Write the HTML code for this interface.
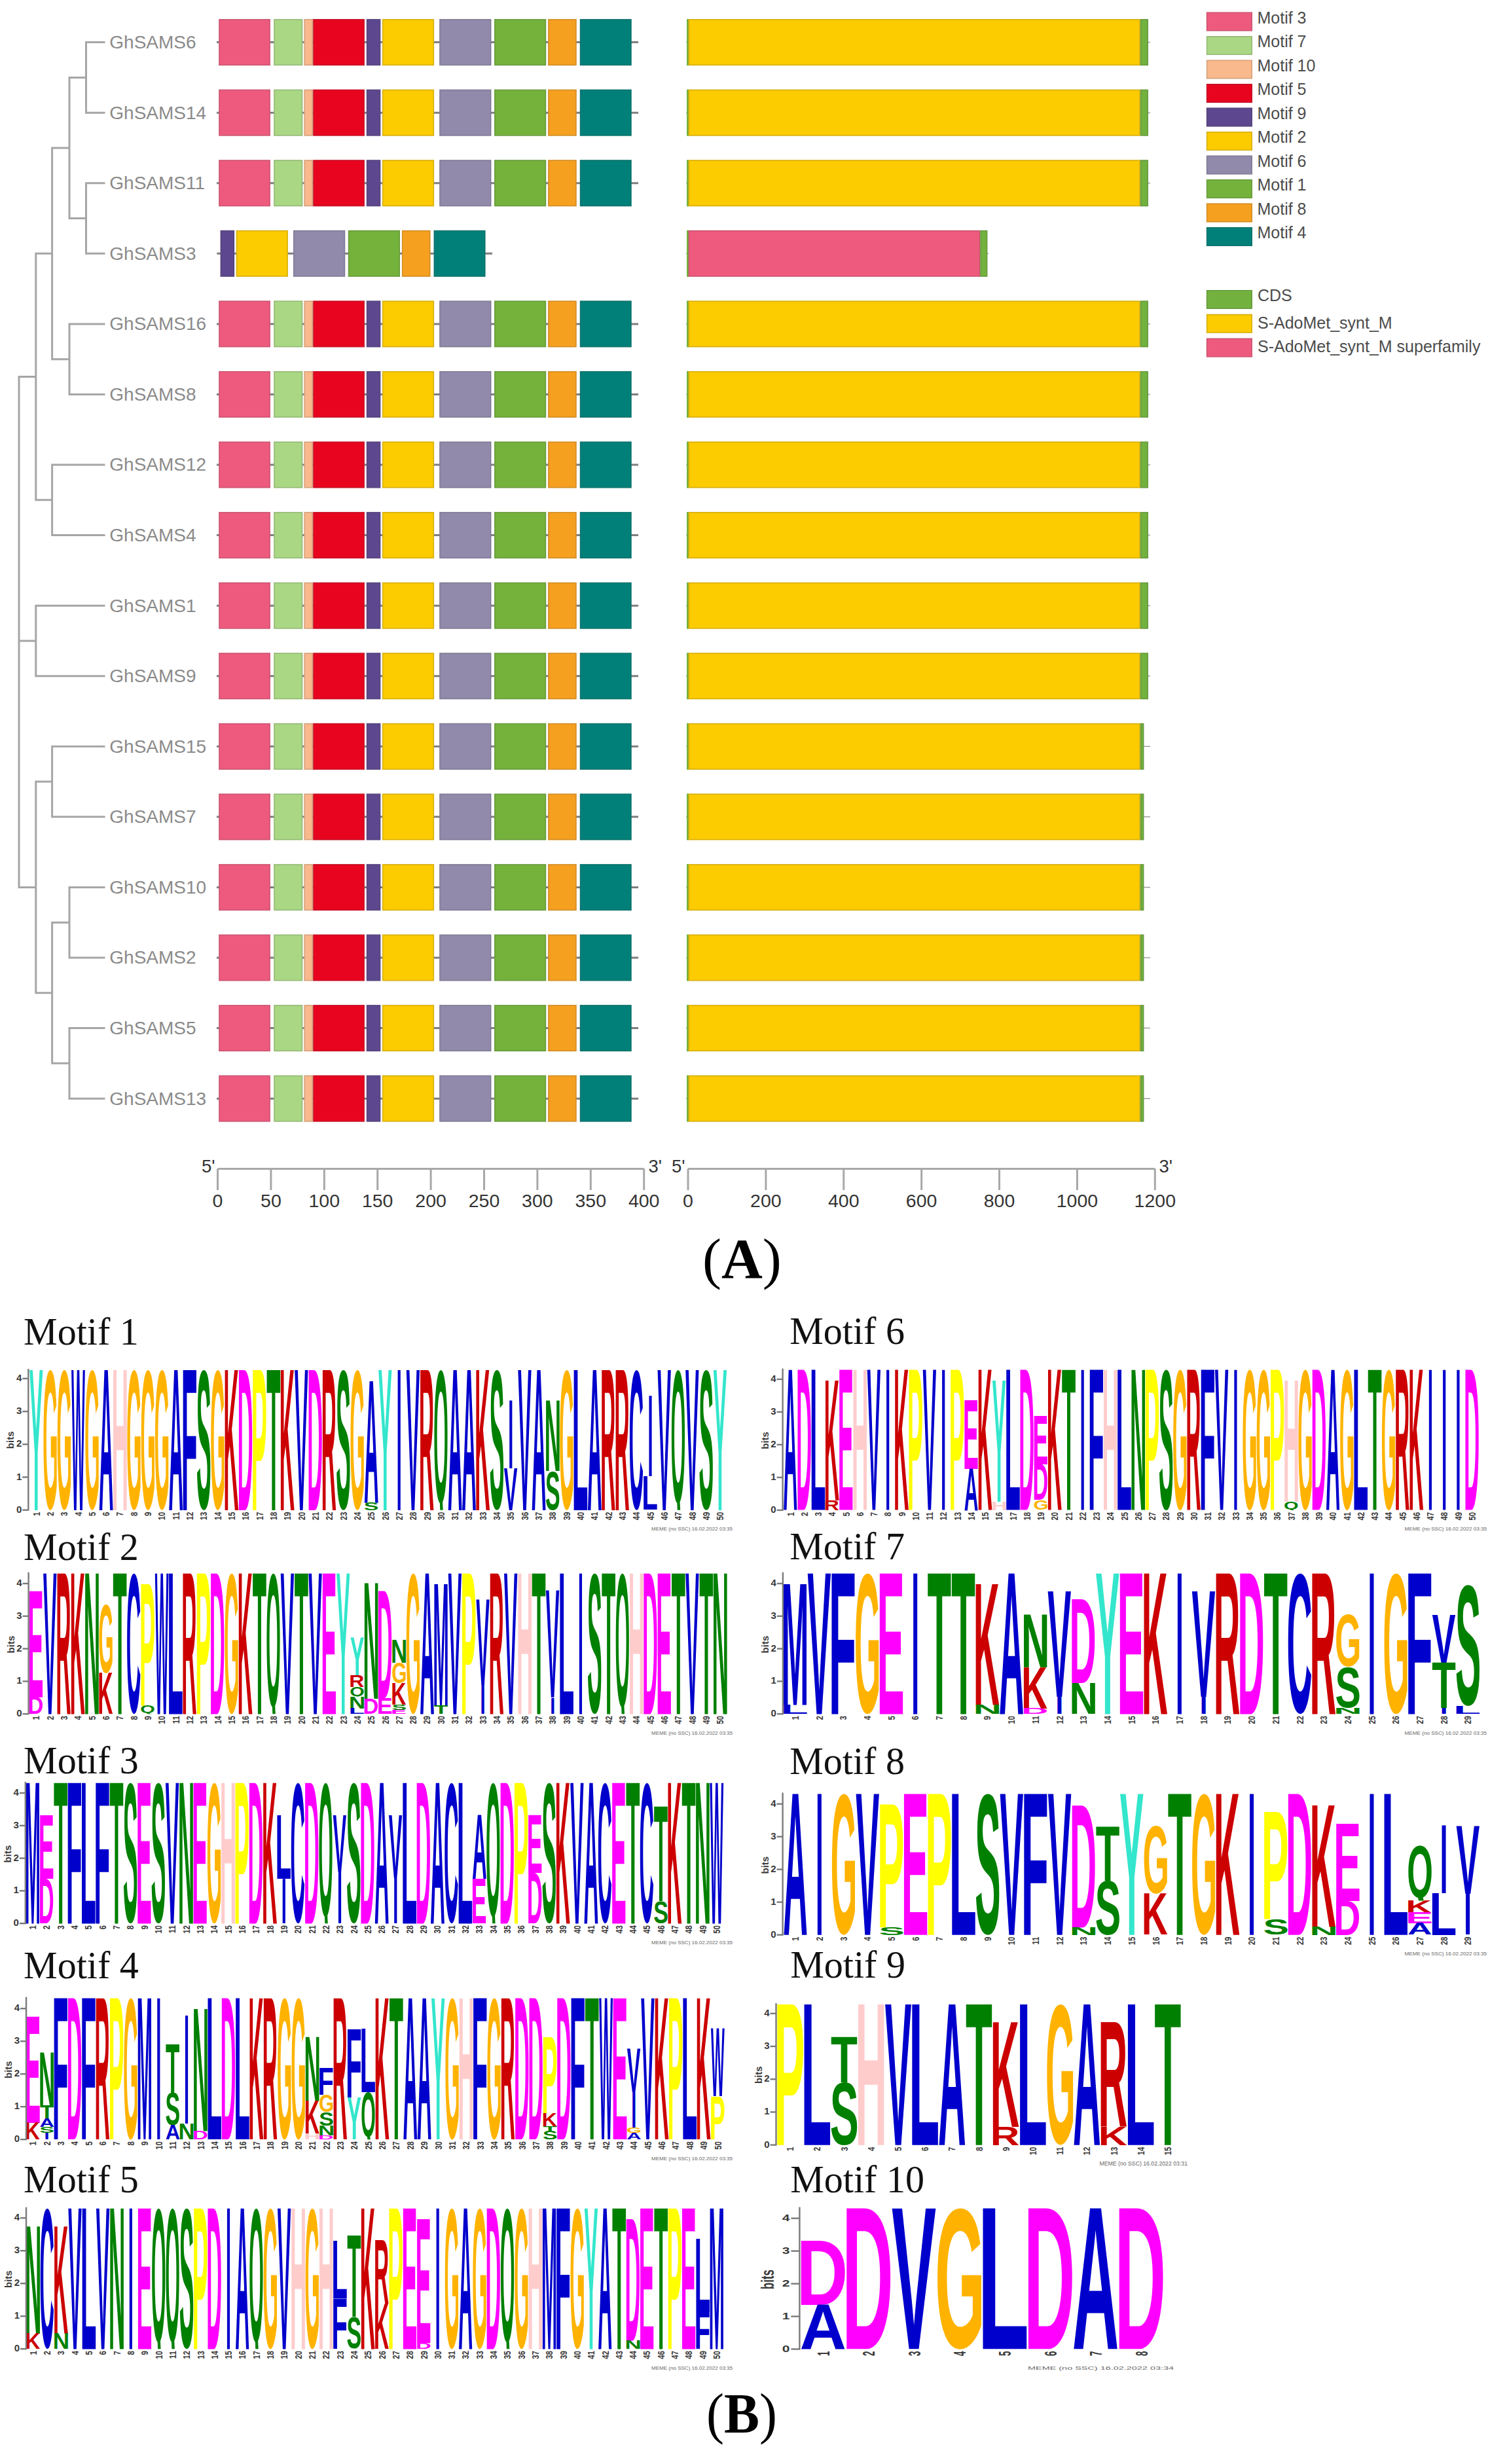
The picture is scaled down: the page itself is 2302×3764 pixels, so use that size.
<!DOCTYPE html>
<html><head><meta charset="utf-8"><title>GhSAMS motifs</title>
<style>html,body{margin:0;padding:0;background:#fff;}svg{display:block;}</style></head>
<body><svg xmlns="http://www.w3.org/2000/svg" width="2302" height="3764" viewBox="0 0 2302 3764">
<rect width="2302" height="3764" fill="#fff"/>
<path d="M131.5 64.6H159M131.5 172.17H159M131.5 279.74H159M131.5 387.31H159M106 494.88H159M106 602.45H159M79.6 710.02H159M79.6 817.59H159M54.8 925.16H159M54.8 1032.73H159M79.6 1140.3H159M79.6 1247.87H159M106 1355.44H159M106 1463.01H159M106 1570.58H159M106 1678.15H159M131.5 64.6V172.17M106 118.38H131.5M131.5 279.74V387.31M106 333.52H131.5M106 118.38V333.52M79.6 225.95H106M106 494.88V602.45M79.6 548.66H106M79.6 225.95V548.66M54.8 387.31H79.6M79.6 710.02V817.59M54.8 763.81H79.6M54.8 387.31V763.81M29 575.56H54.8M54.8 925.16V1032.73M29 978.94H54.8M79.6 1140.3V1247.87M54.8 1194.08H79.6M106 1355.44V1463.01M79.6 1409.22H106M106 1570.58V1678.15M79.6 1624.36H106M79.6 1409.22V1624.36M54.8 1516.79H79.6M54.8 1194.08V1516.79M29 1355.44H54.8M29 575.56V1355.44" stroke="#a6a6a6" stroke-width="3" fill="none" stroke-linecap="square"/>
<g font-family="Liberation Sans" font-size="27.6" fill="#8a8a8a">
<text x="167.3" y="74" transform="translate(167.3 0) scale(1.015 1) translate(-167.3 0)">GhSAMS6</text>
<text x="167.3" y="181.57" transform="translate(167.3 0) scale(1.015 1) translate(-167.3 0)">GhSAMS14</text>
<text x="167.3" y="289.14" transform="translate(167.3 0) scale(1.015 1) translate(-167.3 0)">GhSAMS11</text>
<text x="167.3" y="396.71" transform="translate(167.3 0) scale(1.015 1) translate(-167.3 0)">GhSAMS3</text>
<text x="167.3" y="504.28" transform="translate(167.3 0) scale(1.015 1) translate(-167.3 0)">GhSAMS16</text>
<text x="167.3" y="611.85" transform="translate(167.3 0) scale(1.015 1) translate(-167.3 0)">GhSAMS8</text>
<text x="167.3" y="719.42" transform="translate(167.3 0) scale(1.015 1) translate(-167.3 0)">GhSAMS12</text>
<text x="167.3" y="826.99" transform="translate(167.3 0) scale(1.015 1) translate(-167.3 0)">GhSAMS4</text>
<text x="167.3" y="934.56" transform="translate(167.3 0) scale(1.015 1) translate(-167.3 0)">GhSAMS1</text>
<text x="167.3" y="1042.13" transform="translate(167.3 0) scale(1.015 1) translate(-167.3 0)">GhSAMS9</text>
<text x="167.3" y="1149.7" transform="translate(167.3 0) scale(1.015 1) translate(-167.3 0)">GhSAMS15</text>
<text x="167.3" y="1257.27" transform="translate(167.3 0) scale(1.015 1) translate(-167.3 0)">GhSAMS7</text>
<text x="167.3" y="1364.84" transform="translate(167.3 0) scale(1.015 1) translate(-167.3 0)">GhSAMS10</text>
<text x="167.3" y="1472.41" transform="translate(167.3 0) scale(1.015 1) translate(-167.3 0)">GhSAMS2</text>
<text x="167.3" y="1579.98" transform="translate(167.3 0) scale(1.015 1) translate(-167.3 0)">GhSAMS5</text>
<text x="167.3" y="1687.55" transform="translate(167.3 0) scale(1.015 1) translate(-167.3 0)">GhSAMS13</text>
</g>
<path d="M331 64.6H975" stroke="#7e7e7e" stroke-width="3"/>
<rect x="334.2" y="29.1" width="78.7" height="71" fill="#EE5A7E"/>
<rect x="335" y="29.9" width="77.1" height="69.4" fill="none" stroke="rgba(70,70,70,0.2)" stroke-width="1.6"/>
<rect x="418.2" y="29.1" width="44.1" height="71" fill="#AAD784"/>
<rect x="419" y="29.9" width="42.5" height="69.4" fill="none" stroke="rgba(70,70,70,0.2)" stroke-width="1.6"/>
<rect x="464.4" y="29.1" width="13.6" height="71" fill="#F9B98C"/>
<rect x="465.2" y="29.9" width="12" height="69.4" fill="none" stroke="rgba(70,70,70,0.2)" stroke-width="1.6"/>
<rect x="478.2" y="29.1" width="78.7" height="71" fill="#E8041F"/>
<rect x="479" y="29.9" width="77.1" height="69.4" fill="none" stroke="rgba(70,70,70,0.2)" stroke-width="1.6"/>
<rect x="559.8" y="29.1" width="21.5" height="71" fill="#5D478E"/>
<rect x="560.6" y="29.9" width="19.9" height="69.4" fill="none" stroke="rgba(70,70,70,0.2)" stroke-width="1.6"/>
<rect x="583.9" y="29.1" width="79.2" height="71" fill="#FCCB00"/>
<rect x="584.7" y="29.9" width="77.6" height="69.4" fill="none" stroke="rgba(70,70,70,0.2)" stroke-width="1.6"/>
<rect x="671.2" y="29.1" width="79.2" height="71" fill="#918AAB"/>
<rect x="672" y="29.9" width="77.6" height="69.4" fill="none" stroke="rgba(70,70,70,0.2)" stroke-width="1.6"/>
<rect x="755" y="29.1" width="79.2" height="71" fill="#74B23C"/>
<rect x="755.8" y="29.9" width="77.6" height="69.4" fill="none" stroke="rgba(70,70,70,0.2)" stroke-width="1.6"/>
<rect x="837.1" y="29.1" width="43.6" height="71" fill="#F6A01F"/>
<rect x="837.9" y="29.9" width="42" height="69.4" fill="none" stroke="rgba(70,70,70,0.2)" stroke-width="1.6"/>
<rect x="885.8" y="29.1" width="78.9" height="71" fill="#008078"/>
<rect x="886.6" y="29.9" width="77.3" height="69.4" fill="none" stroke="rgba(70,70,70,0.2)" stroke-width="1.6"/>
<path d="M1048 64.6H1757" stroke="#a0a0a0" stroke-width="1.5"/>
<rect x="1049" y="29.1" width="3" height="71" fill="#72B13E"/>
<rect x="1051.5" y="29.1" width="690.3" height="71" fill="#FCCB00"/>
<rect x="1052.3" y="29.9" width="688.7" height="69.4" fill="none" stroke="rgba(70,70,70,0.2)" stroke-width="1.6"/>
<rect x="1741.8" y="29.1" width="12.2" height="71" fill="#72B13E"/>
<rect x="1742.6" y="29.9" width="10.6" height="69.4" fill="none" stroke="rgba(70,70,70,0.2)" stroke-width="1.6"/>
<path d="M331 172.17H975" stroke="#7e7e7e" stroke-width="3"/>
<rect x="334.2" y="136.67" width="78.7" height="71" fill="#EE5A7E"/>
<rect x="335" y="137.47" width="77.1" height="69.4" fill="none" stroke="rgba(70,70,70,0.2)" stroke-width="1.6"/>
<rect x="418.2" y="136.67" width="44.1" height="71" fill="#AAD784"/>
<rect x="419" y="137.47" width="42.5" height="69.4" fill="none" stroke="rgba(70,70,70,0.2)" stroke-width="1.6"/>
<rect x="464.4" y="136.67" width="13.6" height="71" fill="#F9B98C"/>
<rect x="465.2" y="137.47" width="12" height="69.4" fill="none" stroke="rgba(70,70,70,0.2)" stroke-width="1.6"/>
<rect x="478.2" y="136.67" width="78.7" height="71" fill="#E8041F"/>
<rect x="479" y="137.47" width="77.1" height="69.4" fill="none" stroke="rgba(70,70,70,0.2)" stroke-width="1.6"/>
<rect x="559.8" y="136.67" width="21.5" height="71" fill="#5D478E"/>
<rect x="560.6" y="137.47" width="19.9" height="69.4" fill="none" stroke="rgba(70,70,70,0.2)" stroke-width="1.6"/>
<rect x="583.9" y="136.67" width="79.2" height="71" fill="#FCCB00"/>
<rect x="584.7" y="137.47" width="77.6" height="69.4" fill="none" stroke="rgba(70,70,70,0.2)" stroke-width="1.6"/>
<rect x="671.2" y="136.67" width="79.2" height="71" fill="#918AAB"/>
<rect x="672" y="137.47" width="77.6" height="69.4" fill="none" stroke="rgba(70,70,70,0.2)" stroke-width="1.6"/>
<rect x="755" y="136.67" width="79.2" height="71" fill="#74B23C"/>
<rect x="755.8" y="137.47" width="77.6" height="69.4" fill="none" stroke="rgba(70,70,70,0.2)" stroke-width="1.6"/>
<rect x="837.1" y="136.67" width="43.6" height="71" fill="#F6A01F"/>
<rect x="837.9" y="137.47" width="42" height="69.4" fill="none" stroke="rgba(70,70,70,0.2)" stroke-width="1.6"/>
<rect x="885.8" y="136.67" width="78.9" height="71" fill="#008078"/>
<rect x="886.6" y="137.47" width="77.3" height="69.4" fill="none" stroke="rgba(70,70,70,0.2)" stroke-width="1.6"/>
<path d="M1048 172.17H1757" stroke="#a0a0a0" stroke-width="1.5"/>
<rect x="1049" y="136.67" width="3" height="71" fill="#72B13E"/>
<rect x="1051.5" y="136.67" width="690.3" height="71" fill="#FCCB00"/>
<rect x="1052.3" y="137.47" width="688.7" height="69.4" fill="none" stroke="rgba(70,70,70,0.2)" stroke-width="1.6"/>
<rect x="1741.8" y="136.67" width="12.2" height="71" fill="#72B13E"/>
<rect x="1742.6" y="137.47" width="10.6" height="69.4" fill="none" stroke="rgba(70,70,70,0.2)" stroke-width="1.6"/>
<path d="M331 279.74H975" stroke="#7e7e7e" stroke-width="3"/>
<rect x="334.2" y="244.24" width="78.7" height="71" fill="#EE5A7E"/>
<rect x="335" y="245.04" width="77.1" height="69.4" fill="none" stroke="rgba(70,70,70,0.2)" stroke-width="1.6"/>
<rect x="418.2" y="244.24" width="44.1" height="71" fill="#AAD784"/>
<rect x="419" y="245.04" width="42.5" height="69.4" fill="none" stroke="rgba(70,70,70,0.2)" stroke-width="1.6"/>
<rect x="464.4" y="244.24" width="13.6" height="71" fill="#F9B98C"/>
<rect x="465.2" y="245.04" width="12" height="69.4" fill="none" stroke="rgba(70,70,70,0.2)" stroke-width="1.6"/>
<rect x="478.2" y="244.24" width="78.7" height="71" fill="#E8041F"/>
<rect x="479" y="245.04" width="77.1" height="69.4" fill="none" stroke="rgba(70,70,70,0.2)" stroke-width="1.6"/>
<rect x="559.8" y="244.24" width="21.5" height="71" fill="#5D478E"/>
<rect x="560.6" y="245.04" width="19.9" height="69.4" fill="none" stroke="rgba(70,70,70,0.2)" stroke-width="1.6"/>
<rect x="583.9" y="244.24" width="79.2" height="71" fill="#FCCB00"/>
<rect x="584.7" y="245.04" width="77.6" height="69.4" fill="none" stroke="rgba(70,70,70,0.2)" stroke-width="1.6"/>
<rect x="671.2" y="244.24" width="79.2" height="71" fill="#918AAB"/>
<rect x="672" y="245.04" width="77.6" height="69.4" fill="none" stroke="rgba(70,70,70,0.2)" stroke-width="1.6"/>
<rect x="755" y="244.24" width="79.2" height="71" fill="#74B23C"/>
<rect x="755.8" y="245.04" width="77.6" height="69.4" fill="none" stroke="rgba(70,70,70,0.2)" stroke-width="1.6"/>
<rect x="837.1" y="244.24" width="43.6" height="71" fill="#F6A01F"/>
<rect x="837.9" y="245.04" width="42" height="69.4" fill="none" stroke="rgba(70,70,70,0.2)" stroke-width="1.6"/>
<rect x="885.8" y="244.24" width="78.9" height="71" fill="#008078"/>
<rect x="886.6" y="245.04" width="77.3" height="69.4" fill="none" stroke="rgba(70,70,70,0.2)" stroke-width="1.6"/>
<path d="M1048 279.74H1757" stroke="#a0a0a0" stroke-width="1.5"/>
<rect x="1049" y="244.24" width="3" height="71" fill="#72B13E"/>
<rect x="1051.5" y="244.24" width="690.3" height="71" fill="#FCCB00"/>
<rect x="1052.3" y="245.04" width="688.7" height="69.4" fill="none" stroke="rgba(70,70,70,0.2)" stroke-width="1.6"/>
<rect x="1741.8" y="244.24" width="12.2" height="71" fill="#72B13E"/>
<rect x="1742.6" y="245.04" width="10.6" height="69.4" fill="none" stroke="rgba(70,70,70,0.2)" stroke-width="1.6"/>
<path d="M331.3 387.31H752" stroke="#7e7e7e" stroke-width="3"/>
<rect x="336.6" y="351.81" width="21.5" height="71" fill="#5D478E"/>
<rect x="337.4" y="352.61" width="19.9" height="69.4" fill="none" stroke="rgba(70,70,70,0.2)" stroke-width="1.6"/>
<rect x="360.7" y="351.81" width="79.2" height="71" fill="#FCCB00"/>
<rect x="361.5" y="352.61" width="77.6" height="69.4" fill="none" stroke="rgba(70,70,70,0.2)" stroke-width="1.6"/>
<rect x="448" y="351.81" width="79.2" height="71" fill="#918AAB"/>
<rect x="448.8" y="352.61" width="77.6" height="69.4" fill="none" stroke="rgba(70,70,70,0.2)" stroke-width="1.6"/>
<rect x="531.8" y="351.81" width="79.2" height="71" fill="#74B23C"/>
<rect x="532.6" y="352.61" width="77.6" height="69.4" fill="none" stroke="rgba(70,70,70,0.2)" stroke-width="1.6"/>
<rect x="613.9" y="351.81" width="43.6" height="71" fill="#F6A01F"/>
<rect x="614.7" y="352.61" width="42" height="69.4" fill="none" stroke="rgba(70,70,70,0.2)" stroke-width="1.6"/>
<rect x="662.6" y="351.81" width="78.9" height="71" fill="#008078"/>
<rect x="663.4" y="352.61" width="77.3" height="69.4" fill="none" stroke="rgba(70,70,70,0.2)" stroke-width="1.6"/>
<path d="M1048 387.31H1510" stroke="#a0a0a0" stroke-width="1.5"/>
<rect x="1049" y="351.81" width="3" height="71" fill="#72B13E"/>
<rect x="1051.6" y="351.81" width="445.6" height="71" fill="#EE5A7E"/>
<rect x="1052.4" y="352.61" width="444" height="69.4" fill="none" stroke="rgba(70,70,70,0.2)" stroke-width="1.6"/>
<rect x="1497.2" y="351.81" width="11.2" height="71" fill="#72B13E"/>
<rect x="1498" y="352.61" width="9.6" height="69.4" fill="none" stroke="rgba(70,70,70,0.2)" stroke-width="1.6"/>
<path d="M331 494.88H975" stroke="#7e7e7e" stroke-width="3"/>
<rect x="334.2" y="459.38" width="78.7" height="71" fill="#EE5A7E"/>
<rect x="335" y="460.18" width="77.1" height="69.4" fill="none" stroke="rgba(70,70,70,0.2)" stroke-width="1.6"/>
<rect x="418.2" y="459.38" width="44.1" height="71" fill="#AAD784"/>
<rect x="419" y="460.18" width="42.5" height="69.4" fill="none" stroke="rgba(70,70,70,0.2)" stroke-width="1.6"/>
<rect x="464.4" y="459.38" width="13.6" height="71" fill="#F9B98C"/>
<rect x="465.2" y="460.18" width="12" height="69.4" fill="none" stroke="rgba(70,70,70,0.2)" stroke-width="1.6"/>
<rect x="478.2" y="459.38" width="78.7" height="71" fill="#E8041F"/>
<rect x="479" y="460.18" width="77.1" height="69.4" fill="none" stroke="rgba(70,70,70,0.2)" stroke-width="1.6"/>
<rect x="559.8" y="459.38" width="21.5" height="71" fill="#5D478E"/>
<rect x="560.6" y="460.18" width="19.9" height="69.4" fill="none" stroke="rgba(70,70,70,0.2)" stroke-width="1.6"/>
<rect x="583.9" y="459.38" width="79.2" height="71" fill="#FCCB00"/>
<rect x="584.7" y="460.18" width="77.6" height="69.4" fill="none" stroke="rgba(70,70,70,0.2)" stroke-width="1.6"/>
<rect x="671.2" y="459.38" width="79.2" height="71" fill="#918AAB"/>
<rect x="672" y="460.18" width="77.6" height="69.4" fill="none" stroke="rgba(70,70,70,0.2)" stroke-width="1.6"/>
<rect x="755" y="459.38" width="79.2" height="71" fill="#74B23C"/>
<rect x="755.8" y="460.18" width="77.6" height="69.4" fill="none" stroke="rgba(70,70,70,0.2)" stroke-width="1.6"/>
<rect x="837.1" y="459.38" width="43.6" height="71" fill="#F6A01F"/>
<rect x="837.9" y="460.18" width="42" height="69.4" fill="none" stroke="rgba(70,70,70,0.2)" stroke-width="1.6"/>
<rect x="885.8" y="459.38" width="78.9" height="71" fill="#008078"/>
<rect x="886.6" y="460.18" width="77.3" height="69.4" fill="none" stroke="rgba(70,70,70,0.2)" stroke-width="1.6"/>
<path d="M1048 494.88H1757" stroke="#a0a0a0" stroke-width="1.5"/>
<rect x="1049" y="459.38" width="3" height="71" fill="#72B13E"/>
<rect x="1051.5" y="459.38" width="690.3" height="71" fill="#FCCB00"/>
<rect x="1052.3" y="460.18" width="688.7" height="69.4" fill="none" stroke="rgba(70,70,70,0.2)" stroke-width="1.6"/>
<rect x="1741.8" y="459.38" width="12.2" height="71" fill="#72B13E"/>
<rect x="1742.6" y="460.18" width="10.6" height="69.4" fill="none" stroke="rgba(70,70,70,0.2)" stroke-width="1.6"/>
<path d="M331 602.45H975" stroke="#7e7e7e" stroke-width="3"/>
<rect x="334.2" y="566.95" width="78.7" height="71" fill="#EE5A7E"/>
<rect x="335" y="567.75" width="77.1" height="69.4" fill="none" stroke="rgba(70,70,70,0.2)" stroke-width="1.6"/>
<rect x="418.2" y="566.95" width="44.1" height="71" fill="#AAD784"/>
<rect x="419" y="567.75" width="42.5" height="69.4" fill="none" stroke="rgba(70,70,70,0.2)" stroke-width="1.6"/>
<rect x="464.4" y="566.95" width="13.6" height="71" fill="#F9B98C"/>
<rect x="465.2" y="567.75" width="12" height="69.4" fill="none" stroke="rgba(70,70,70,0.2)" stroke-width="1.6"/>
<rect x="478.2" y="566.95" width="78.7" height="71" fill="#E8041F"/>
<rect x="479" y="567.75" width="77.1" height="69.4" fill="none" stroke="rgba(70,70,70,0.2)" stroke-width="1.6"/>
<rect x="559.8" y="566.95" width="21.5" height="71" fill="#5D478E"/>
<rect x="560.6" y="567.75" width="19.9" height="69.4" fill="none" stroke="rgba(70,70,70,0.2)" stroke-width="1.6"/>
<rect x="583.9" y="566.95" width="79.2" height="71" fill="#FCCB00"/>
<rect x="584.7" y="567.75" width="77.6" height="69.4" fill="none" stroke="rgba(70,70,70,0.2)" stroke-width="1.6"/>
<rect x="671.2" y="566.95" width="79.2" height="71" fill="#918AAB"/>
<rect x="672" y="567.75" width="77.6" height="69.4" fill="none" stroke="rgba(70,70,70,0.2)" stroke-width="1.6"/>
<rect x="755" y="566.95" width="79.2" height="71" fill="#74B23C"/>
<rect x="755.8" y="567.75" width="77.6" height="69.4" fill="none" stroke="rgba(70,70,70,0.2)" stroke-width="1.6"/>
<rect x="837.1" y="566.95" width="43.6" height="71" fill="#F6A01F"/>
<rect x="837.9" y="567.75" width="42" height="69.4" fill="none" stroke="rgba(70,70,70,0.2)" stroke-width="1.6"/>
<rect x="885.8" y="566.95" width="78.9" height="71" fill="#008078"/>
<rect x="886.6" y="567.75" width="77.3" height="69.4" fill="none" stroke="rgba(70,70,70,0.2)" stroke-width="1.6"/>
<path d="M1048 602.45H1757" stroke="#a0a0a0" stroke-width="1.5"/>
<rect x="1049" y="566.95" width="3" height="71" fill="#72B13E"/>
<rect x="1051.5" y="566.95" width="690.3" height="71" fill="#FCCB00"/>
<rect x="1052.3" y="567.75" width="688.7" height="69.4" fill="none" stroke="rgba(70,70,70,0.2)" stroke-width="1.6"/>
<rect x="1741.8" y="566.95" width="12.2" height="71" fill="#72B13E"/>
<rect x="1742.6" y="567.75" width="10.6" height="69.4" fill="none" stroke="rgba(70,70,70,0.2)" stroke-width="1.6"/>
<path d="M331 710.02H975" stroke="#7e7e7e" stroke-width="3"/>
<rect x="334.2" y="674.52" width="78.7" height="71" fill="#EE5A7E"/>
<rect x="335" y="675.32" width="77.1" height="69.4" fill="none" stroke="rgba(70,70,70,0.2)" stroke-width="1.6"/>
<rect x="418.2" y="674.52" width="44.1" height="71" fill="#AAD784"/>
<rect x="419" y="675.32" width="42.5" height="69.4" fill="none" stroke="rgba(70,70,70,0.2)" stroke-width="1.6"/>
<rect x="464.4" y="674.52" width="13.6" height="71" fill="#F9B98C"/>
<rect x="465.2" y="675.32" width="12" height="69.4" fill="none" stroke="rgba(70,70,70,0.2)" stroke-width="1.6"/>
<rect x="478.2" y="674.52" width="78.7" height="71" fill="#E8041F"/>
<rect x="479" y="675.32" width="77.1" height="69.4" fill="none" stroke="rgba(70,70,70,0.2)" stroke-width="1.6"/>
<rect x="559.8" y="674.52" width="21.5" height="71" fill="#5D478E"/>
<rect x="560.6" y="675.32" width="19.9" height="69.4" fill="none" stroke="rgba(70,70,70,0.2)" stroke-width="1.6"/>
<rect x="583.9" y="674.52" width="79.2" height="71" fill="#FCCB00"/>
<rect x="584.7" y="675.32" width="77.6" height="69.4" fill="none" stroke="rgba(70,70,70,0.2)" stroke-width="1.6"/>
<rect x="671.2" y="674.52" width="79.2" height="71" fill="#918AAB"/>
<rect x="672" y="675.32" width="77.6" height="69.4" fill="none" stroke="rgba(70,70,70,0.2)" stroke-width="1.6"/>
<rect x="755" y="674.52" width="79.2" height="71" fill="#74B23C"/>
<rect x="755.8" y="675.32" width="77.6" height="69.4" fill="none" stroke="rgba(70,70,70,0.2)" stroke-width="1.6"/>
<rect x="837.1" y="674.52" width="43.6" height="71" fill="#F6A01F"/>
<rect x="837.9" y="675.32" width="42" height="69.4" fill="none" stroke="rgba(70,70,70,0.2)" stroke-width="1.6"/>
<rect x="885.8" y="674.52" width="78.9" height="71" fill="#008078"/>
<rect x="886.6" y="675.32" width="77.3" height="69.4" fill="none" stroke="rgba(70,70,70,0.2)" stroke-width="1.6"/>
<path d="M1048 710.02H1757" stroke="#a0a0a0" stroke-width="1.5"/>
<rect x="1049" y="674.52" width="3" height="71" fill="#72B13E"/>
<rect x="1051.5" y="674.52" width="690.3" height="71" fill="#FCCB00"/>
<rect x="1052.3" y="675.32" width="688.7" height="69.4" fill="none" stroke="rgba(70,70,70,0.2)" stroke-width="1.6"/>
<rect x="1741.8" y="674.52" width="12.2" height="71" fill="#72B13E"/>
<rect x="1742.6" y="675.32" width="10.6" height="69.4" fill="none" stroke="rgba(70,70,70,0.2)" stroke-width="1.6"/>
<path d="M331 817.59H975" stroke="#7e7e7e" stroke-width="3"/>
<rect x="334.2" y="782.09" width="78.7" height="71" fill="#EE5A7E"/>
<rect x="335" y="782.89" width="77.1" height="69.4" fill="none" stroke="rgba(70,70,70,0.2)" stroke-width="1.6"/>
<rect x="418.2" y="782.09" width="44.1" height="71" fill="#AAD784"/>
<rect x="419" y="782.89" width="42.5" height="69.4" fill="none" stroke="rgba(70,70,70,0.2)" stroke-width="1.6"/>
<rect x="464.4" y="782.09" width="13.6" height="71" fill="#F9B98C"/>
<rect x="465.2" y="782.89" width="12" height="69.4" fill="none" stroke="rgba(70,70,70,0.2)" stroke-width="1.6"/>
<rect x="478.2" y="782.09" width="78.7" height="71" fill="#E8041F"/>
<rect x="479" y="782.89" width="77.1" height="69.4" fill="none" stroke="rgba(70,70,70,0.2)" stroke-width="1.6"/>
<rect x="559.8" y="782.09" width="21.5" height="71" fill="#5D478E"/>
<rect x="560.6" y="782.89" width="19.9" height="69.4" fill="none" stroke="rgba(70,70,70,0.2)" stroke-width="1.6"/>
<rect x="583.9" y="782.09" width="79.2" height="71" fill="#FCCB00"/>
<rect x="584.7" y="782.89" width="77.6" height="69.4" fill="none" stroke="rgba(70,70,70,0.2)" stroke-width="1.6"/>
<rect x="671.2" y="782.09" width="79.2" height="71" fill="#918AAB"/>
<rect x="672" y="782.89" width="77.6" height="69.4" fill="none" stroke="rgba(70,70,70,0.2)" stroke-width="1.6"/>
<rect x="755" y="782.09" width="79.2" height="71" fill="#74B23C"/>
<rect x="755.8" y="782.89" width="77.6" height="69.4" fill="none" stroke="rgba(70,70,70,0.2)" stroke-width="1.6"/>
<rect x="837.1" y="782.09" width="43.6" height="71" fill="#F6A01F"/>
<rect x="837.9" y="782.89" width="42" height="69.4" fill="none" stroke="rgba(70,70,70,0.2)" stroke-width="1.6"/>
<rect x="885.8" y="782.09" width="78.9" height="71" fill="#008078"/>
<rect x="886.6" y="782.89" width="77.3" height="69.4" fill="none" stroke="rgba(70,70,70,0.2)" stroke-width="1.6"/>
<path d="M1048 817.59H1757" stroke="#a0a0a0" stroke-width="1.5"/>
<rect x="1049" y="782.09" width="3" height="71" fill="#72B13E"/>
<rect x="1051.5" y="782.09" width="690.3" height="71" fill="#FCCB00"/>
<rect x="1052.3" y="782.89" width="688.7" height="69.4" fill="none" stroke="rgba(70,70,70,0.2)" stroke-width="1.6"/>
<rect x="1741.8" y="782.09" width="12.2" height="71" fill="#72B13E"/>
<rect x="1742.6" y="782.89" width="10.6" height="69.4" fill="none" stroke="rgba(70,70,70,0.2)" stroke-width="1.6"/>
<path d="M331 925.16H975" stroke="#7e7e7e" stroke-width="3"/>
<rect x="334.2" y="889.66" width="78.7" height="71" fill="#EE5A7E"/>
<rect x="335" y="890.46" width="77.1" height="69.4" fill="none" stroke="rgba(70,70,70,0.2)" stroke-width="1.6"/>
<rect x="418.2" y="889.66" width="44.1" height="71" fill="#AAD784"/>
<rect x="419" y="890.46" width="42.5" height="69.4" fill="none" stroke="rgba(70,70,70,0.2)" stroke-width="1.6"/>
<rect x="464.4" y="889.66" width="13.6" height="71" fill="#F9B98C"/>
<rect x="465.2" y="890.46" width="12" height="69.4" fill="none" stroke="rgba(70,70,70,0.2)" stroke-width="1.6"/>
<rect x="478.2" y="889.66" width="78.7" height="71" fill="#E8041F"/>
<rect x="479" y="890.46" width="77.1" height="69.4" fill="none" stroke="rgba(70,70,70,0.2)" stroke-width="1.6"/>
<rect x="559.8" y="889.66" width="21.5" height="71" fill="#5D478E"/>
<rect x="560.6" y="890.46" width="19.9" height="69.4" fill="none" stroke="rgba(70,70,70,0.2)" stroke-width="1.6"/>
<rect x="583.9" y="889.66" width="79.2" height="71" fill="#FCCB00"/>
<rect x="584.7" y="890.46" width="77.6" height="69.4" fill="none" stroke="rgba(70,70,70,0.2)" stroke-width="1.6"/>
<rect x="671.2" y="889.66" width="79.2" height="71" fill="#918AAB"/>
<rect x="672" y="890.46" width="77.6" height="69.4" fill="none" stroke="rgba(70,70,70,0.2)" stroke-width="1.6"/>
<rect x="755" y="889.66" width="79.2" height="71" fill="#74B23C"/>
<rect x="755.8" y="890.46" width="77.6" height="69.4" fill="none" stroke="rgba(70,70,70,0.2)" stroke-width="1.6"/>
<rect x="837.1" y="889.66" width="43.6" height="71" fill="#F6A01F"/>
<rect x="837.9" y="890.46" width="42" height="69.4" fill="none" stroke="rgba(70,70,70,0.2)" stroke-width="1.6"/>
<rect x="885.8" y="889.66" width="78.9" height="71" fill="#008078"/>
<rect x="886.6" y="890.46" width="77.3" height="69.4" fill="none" stroke="rgba(70,70,70,0.2)" stroke-width="1.6"/>
<path d="M1048 925.16H1757" stroke="#a0a0a0" stroke-width="1.5"/>
<rect x="1049" y="889.66" width="3" height="71" fill="#72B13E"/>
<rect x="1051.5" y="889.66" width="690.3" height="71" fill="#FCCB00"/>
<rect x="1052.3" y="890.46" width="688.7" height="69.4" fill="none" stroke="rgba(70,70,70,0.2)" stroke-width="1.6"/>
<rect x="1741.8" y="889.66" width="12.2" height="71" fill="#72B13E"/>
<rect x="1742.6" y="890.46" width="10.6" height="69.4" fill="none" stroke="rgba(70,70,70,0.2)" stroke-width="1.6"/>
<path d="M331 1032.73H975" stroke="#7e7e7e" stroke-width="3"/>
<rect x="334.2" y="997.23" width="78.7" height="71" fill="#EE5A7E"/>
<rect x="335" y="998.03" width="77.1" height="69.4" fill="none" stroke="rgba(70,70,70,0.2)" stroke-width="1.6"/>
<rect x="418.2" y="997.23" width="44.1" height="71" fill="#AAD784"/>
<rect x="419" y="998.03" width="42.5" height="69.4" fill="none" stroke="rgba(70,70,70,0.2)" stroke-width="1.6"/>
<rect x="464.4" y="997.23" width="13.6" height="71" fill="#F9B98C"/>
<rect x="465.2" y="998.03" width="12" height="69.4" fill="none" stroke="rgba(70,70,70,0.2)" stroke-width="1.6"/>
<rect x="478.2" y="997.23" width="78.7" height="71" fill="#E8041F"/>
<rect x="479" y="998.03" width="77.1" height="69.4" fill="none" stroke="rgba(70,70,70,0.2)" stroke-width="1.6"/>
<rect x="559.8" y="997.23" width="21.5" height="71" fill="#5D478E"/>
<rect x="560.6" y="998.03" width="19.9" height="69.4" fill="none" stroke="rgba(70,70,70,0.2)" stroke-width="1.6"/>
<rect x="583.9" y="997.23" width="79.2" height="71" fill="#FCCB00"/>
<rect x="584.7" y="998.03" width="77.6" height="69.4" fill="none" stroke="rgba(70,70,70,0.2)" stroke-width="1.6"/>
<rect x="671.2" y="997.23" width="79.2" height="71" fill="#918AAB"/>
<rect x="672" y="998.03" width="77.6" height="69.4" fill="none" stroke="rgba(70,70,70,0.2)" stroke-width="1.6"/>
<rect x="755" y="997.23" width="79.2" height="71" fill="#74B23C"/>
<rect x="755.8" y="998.03" width="77.6" height="69.4" fill="none" stroke="rgba(70,70,70,0.2)" stroke-width="1.6"/>
<rect x="837.1" y="997.23" width="43.6" height="71" fill="#F6A01F"/>
<rect x="837.9" y="998.03" width="42" height="69.4" fill="none" stroke="rgba(70,70,70,0.2)" stroke-width="1.6"/>
<rect x="885.8" y="997.23" width="78.9" height="71" fill="#008078"/>
<rect x="886.6" y="998.03" width="77.3" height="69.4" fill="none" stroke="rgba(70,70,70,0.2)" stroke-width="1.6"/>
<path d="M1048 1032.73H1757" stroke="#a0a0a0" stroke-width="1.5"/>
<rect x="1049" y="997.23" width="3" height="71" fill="#72B13E"/>
<rect x="1051.5" y="997.23" width="690.3" height="71" fill="#FCCB00"/>
<rect x="1052.3" y="998.03" width="688.7" height="69.4" fill="none" stroke="rgba(70,70,70,0.2)" stroke-width="1.6"/>
<rect x="1741.8" y="997.23" width="12.2" height="71" fill="#72B13E"/>
<rect x="1742.6" y="998.03" width="10.6" height="69.4" fill="none" stroke="rgba(70,70,70,0.2)" stroke-width="1.6"/>
<path d="M331 1140.3H975" stroke="#7e7e7e" stroke-width="3"/>
<rect x="334.2" y="1104.8" width="78.7" height="71" fill="#EE5A7E"/>
<rect x="335" y="1105.6" width="77.1" height="69.4" fill="none" stroke="rgba(70,70,70,0.2)" stroke-width="1.6"/>
<rect x="418.2" y="1104.8" width="44.1" height="71" fill="#AAD784"/>
<rect x="419" y="1105.6" width="42.5" height="69.4" fill="none" stroke="rgba(70,70,70,0.2)" stroke-width="1.6"/>
<rect x="464.4" y="1104.8" width="13.6" height="71" fill="#F9B98C"/>
<rect x="465.2" y="1105.6" width="12" height="69.4" fill="none" stroke="rgba(70,70,70,0.2)" stroke-width="1.6"/>
<rect x="478.2" y="1104.8" width="78.7" height="71" fill="#E8041F"/>
<rect x="479" y="1105.6" width="77.1" height="69.4" fill="none" stroke="rgba(70,70,70,0.2)" stroke-width="1.6"/>
<rect x="559.8" y="1104.8" width="21.5" height="71" fill="#5D478E"/>
<rect x="560.6" y="1105.6" width="19.9" height="69.4" fill="none" stroke="rgba(70,70,70,0.2)" stroke-width="1.6"/>
<rect x="583.9" y="1104.8" width="79.2" height="71" fill="#FCCB00"/>
<rect x="584.7" y="1105.6" width="77.6" height="69.4" fill="none" stroke="rgba(70,70,70,0.2)" stroke-width="1.6"/>
<rect x="671.2" y="1104.8" width="79.2" height="71" fill="#918AAB"/>
<rect x="672" y="1105.6" width="77.6" height="69.4" fill="none" stroke="rgba(70,70,70,0.2)" stroke-width="1.6"/>
<rect x="755" y="1104.8" width="79.2" height="71" fill="#74B23C"/>
<rect x="755.8" y="1105.6" width="77.6" height="69.4" fill="none" stroke="rgba(70,70,70,0.2)" stroke-width="1.6"/>
<rect x="837.1" y="1104.8" width="43.6" height="71" fill="#F6A01F"/>
<rect x="837.9" y="1105.6" width="42" height="69.4" fill="none" stroke="rgba(70,70,70,0.2)" stroke-width="1.6"/>
<rect x="885.8" y="1104.8" width="78.9" height="71" fill="#008078"/>
<rect x="886.6" y="1105.6" width="77.3" height="69.4" fill="none" stroke="rgba(70,70,70,0.2)" stroke-width="1.6"/>
<path d="M1048 1140.3H1757" stroke="#a0a0a0" stroke-width="1.5"/>
<rect x="1049" y="1104.8" width="3" height="71" fill="#72B13E"/>
<rect x="1051.5" y="1104.8" width="690.3" height="71" fill="#FCCB00"/>
<rect x="1052.3" y="1105.6" width="688.7" height="69.4" fill="none" stroke="rgba(70,70,70,0.2)" stroke-width="1.6"/>
<rect x="1741.8" y="1104.8" width="5.6" height="71" fill="#72B13E"/>
<rect x="1742.6" y="1105.6" width="4" height="69.4" fill="none" stroke="rgba(70,70,70,0.2)" stroke-width="1.6"/>
<path d="M331 1247.87H975" stroke="#7e7e7e" stroke-width="3"/>
<rect x="334.2" y="1212.37" width="78.7" height="71" fill="#EE5A7E"/>
<rect x="335" y="1213.17" width="77.1" height="69.4" fill="none" stroke="rgba(70,70,70,0.2)" stroke-width="1.6"/>
<rect x="418.2" y="1212.37" width="44.1" height="71" fill="#AAD784"/>
<rect x="419" y="1213.17" width="42.5" height="69.4" fill="none" stroke="rgba(70,70,70,0.2)" stroke-width="1.6"/>
<rect x="464.4" y="1212.37" width="13.6" height="71" fill="#F9B98C"/>
<rect x="465.2" y="1213.17" width="12" height="69.4" fill="none" stroke="rgba(70,70,70,0.2)" stroke-width="1.6"/>
<rect x="478.2" y="1212.37" width="78.7" height="71" fill="#E8041F"/>
<rect x="479" y="1213.17" width="77.1" height="69.4" fill="none" stroke="rgba(70,70,70,0.2)" stroke-width="1.6"/>
<rect x="559.8" y="1212.37" width="21.5" height="71" fill="#5D478E"/>
<rect x="560.6" y="1213.17" width="19.9" height="69.4" fill="none" stroke="rgba(70,70,70,0.2)" stroke-width="1.6"/>
<rect x="583.9" y="1212.37" width="79.2" height="71" fill="#FCCB00"/>
<rect x="584.7" y="1213.17" width="77.6" height="69.4" fill="none" stroke="rgba(70,70,70,0.2)" stroke-width="1.6"/>
<rect x="671.2" y="1212.37" width="79.2" height="71" fill="#918AAB"/>
<rect x="672" y="1213.17" width="77.6" height="69.4" fill="none" stroke="rgba(70,70,70,0.2)" stroke-width="1.6"/>
<rect x="755" y="1212.37" width="79.2" height="71" fill="#74B23C"/>
<rect x="755.8" y="1213.17" width="77.6" height="69.4" fill="none" stroke="rgba(70,70,70,0.2)" stroke-width="1.6"/>
<rect x="837.1" y="1212.37" width="43.6" height="71" fill="#F6A01F"/>
<rect x="837.9" y="1213.17" width="42" height="69.4" fill="none" stroke="rgba(70,70,70,0.2)" stroke-width="1.6"/>
<rect x="885.8" y="1212.37" width="78.9" height="71" fill="#008078"/>
<rect x="886.6" y="1213.17" width="77.3" height="69.4" fill="none" stroke="rgba(70,70,70,0.2)" stroke-width="1.6"/>
<path d="M1048 1247.87H1757" stroke="#a0a0a0" stroke-width="1.5"/>
<rect x="1049" y="1212.37" width="3" height="71" fill="#72B13E"/>
<rect x="1051.5" y="1212.37" width="690.3" height="71" fill="#FCCB00"/>
<rect x="1052.3" y="1213.17" width="688.7" height="69.4" fill="none" stroke="rgba(70,70,70,0.2)" stroke-width="1.6"/>
<rect x="1741.8" y="1212.37" width="5.6" height="71" fill="#72B13E"/>
<rect x="1742.6" y="1213.17" width="4" height="69.4" fill="none" stroke="rgba(70,70,70,0.2)" stroke-width="1.6"/>
<path d="M331 1355.44H975" stroke="#7e7e7e" stroke-width="3"/>
<rect x="334.2" y="1319.94" width="78.7" height="71" fill="#EE5A7E"/>
<rect x="335" y="1320.74" width="77.1" height="69.4" fill="none" stroke="rgba(70,70,70,0.2)" stroke-width="1.6"/>
<rect x="418.2" y="1319.94" width="44.1" height="71" fill="#AAD784"/>
<rect x="419" y="1320.74" width="42.5" height="69.4" fill="none" stroke="rgba(70,70,70,0.2)" stroke-width="1.6"/>
<rect x="464.4" y="1319.94" width="13.6" height="71" fill="#F9B98C"/>
<rect x="465.2" y="1320.74" width="12" height="69.4" fill="none" stroke="rgba(70,70,70,0.2)" stroke-width="1.6"/>
<rect x="478.2" y="1319.94" width="78.7" height="71" fill="#E8041F"/>
<rect x="479" y="1320.74" width="77.1" height="69.4" fill="none" stroke="rgba(70,70,70,0.2)" stroke-width="1.6"/>
<rect x="559.8" y="1319.94" width="21.5" height="71" fill="#5D478E"/>
<rect x="560.6" y="1320.74" width="19.9" height="69.4" fill="none" stroke="rgba(70,70,70,0.2)" stroke-width="1.6"/>
<rect x="583.9" y="1319.94" width="79.2" height="71" fill="#FCCB00"/>
<rect x="584.7" y="1320.74" width="77.6" height="69.4" fill="none" stroke="rgba(70,70,70,0.2)" stroke-width="1.6"/>
<rect x="671.2" y="1319.94" width="79.2" height="71" fill="#918AAB"/>
<rect x="672" y="1320.74" width="77.6" height="69.4" fill="none" stroke="rgba(70,70,70,0.2)" stroke-width="1.6"/>
<rect x="755" y="1319.94" width="79.2" height="71" fill="#74B23C"/>
<rect x="755.8" y="1320.74" width="77.6" height="69.4" fill="none" stroke="rgba(70,70,70,0.2)" stroke-width="1.6"/>
<rect x="837.1" y="1319.94" width="43.6" height="71" fill="#F6A01F"/>
<rect x="837.9" y="1320.74" width="42" height="69.4" fill="none" stroke="rgba(70,70,70,0.2)" stroke-width="1.6"/>
<rect x="885.8" y="1319.94" width="78.9" height="71" fill="#008078"/>
<rect x="886.6" y="1320.74" width="77.3" height="69.4" fill="none" stroke="rgba(70,70,70,0.2)" stroke-width="1.6"/>
<path d="M1048 1355.44H1757" stroke="#a0a0a0" stroke-width="1.5"/>
<rect x="1049" y="1319.94" width="3" height="71" fill="#72B13E"/>
<rect x="1051.5" y="1319.94" width="690.3" height="71" fill="#FCCB00"/>
<rect x="1052.3" y="1320.74" width="688.7" height="69.4" fill="none" stroke="rgba(70,70,70,0.2)" stroke-width="1.6"/>
<rect x="1741.8" y="1319.94" width="5.6" height="71" fill="#72B13E"/>
<rect x="1742.6" y="1320.74" width="4" height="69.4" fill="none" stroke="rgba(70,70,70,0.2)" stroke-width="1.6"/>
<path d="M331 1463.01H975" stroke="#7e7e7e" stroke-width="3"/>
<rect x="334.2" y="1427.51" width="78.7" height="71" fill="#EE5A7E"/>
<rect x="335" y="1428.31" width="77.1" height="69.4" fill="none" stroke="rgba(70,70,70,0.2)" stroke-width="1.6"/>
<rect x="418.2" y="1427.51" width="44.1" height="71" fill="#AAD784"/>
<rect x="419" y="1428.31" width="42.5" height="69.4" fill="none" stroke="rgba(70,70,70,0.2)" stroke-width="1.6"/>
<rect x="464.4" y="1427.51" width="13.6" height="71" fill="#F9B98C"/>
<rect x="465.2" y="1428.31" width="12" height="69.4" fill="none" stroke="rgba(70,70,70,0.2)" stroke-width="1.6"/>
<rect x="478.2" y="1427.51" width="78.7" height="71" fill="#E8041F"/>
<rect x="479" y="1428.31" width="77.1" height="69.4" fill="none" stroke="rgba(70,70,70,0.2)" stroke-width="1.6"/>
<rect x="559.8" y="1427.51" width="21.5" height="71" fill="#5D478E"/>
<rect x="560.6" y="1428.31" width="19.9" height="69.4" fill="none" stroke="rgba(70,70,70,0.2)" stroke-width="1.6"/>
<rect x="583.9" y="1427.51" width="79.2" height="71" fill="#FCCB00"/>
<rect x="584.7" y="1428.31" width="77.6" height="69.4" fill="none" stroke="rgba(70,70,70,0.2)" stroke-width="1.6"/>
<rect x="671.2" y="1427.51" width="79.2" height="71" fill="#918AAB"/>
<rect x="672" y="1428.31" width="77.6" height="69.4" fill="none" stroke="rgba(70,70,70,0.2)" stroke-width="1.6"/>
<rect x="755" y="1427.51" width="79.2" height="71" fill="#74B23C"/>
<rect x="755.8" y="1428.31" width="77.6" height="69.4" fill="none" stroke="rgba(70,70,70,0.2)" stroke-width="1.6"/>
<rect x="837.1" y="1427.51" width="43.6" height="71" fill="#F6A01F"/>
<rect x="837.9" y="1428.31" width="42" height="69.4" fill="none" stroke="rgba(70,70,70,0.2)" stroke-width="1.6"/>
<rect x="885.8" y="1427.51" width="78.9" height="71" fill="#008078"/>
<rect x="886.6" y="1428.31" width="77.3" height="69.4" fill="none" stroke="rgba(70,70,70,0.2)" stroke-width="1.6"/>
<path d="M1048 1463.01H1757" stroke="#a0a0a0" stroke-width="1.5"/>
<rect x="1049" y="1427.51" width="3" height="71" fill="#72B13E"/>
<rect x="1051.5" y="1427.51" width="690.3" height="71" fill="#FCCB00"/>
<rect x="1052.3" y="1428.31" width="688.7" height="69.4" fill="none" stroke="rgba(70,70,70,0.2)" stroke-width="1.6"/>
<rect x="1741.8" y="1427.51" width="5.6" height="71" fill="#72B13E"/>
<rect x="1742.6" y="1428.31" width="4" height="69.4" fill="none" stroke="rgba(70,70,70,0.2)" stroke-width="1.6"/>
<path d="M331 1570.58H975" stroke="#7e7e7e" stroke-width="3"/>
<rect x="334.2" y="1535.08" width="78.7" height="71" fill="#EE5A7E"/>
<rect x="335" y="1535.88" width="77.1" height="69.4" fill="none" stroke="rgba(70,70,70,0.2)" stroke-width="1.6"/>
<rect x="418.2" y="1535.08" width="44.1" height="71" fill="#AAD784"/>
<rect x="419" y="1535.88" width="42.5" height="69.4" fill="none" stroke="rgba(70,70,70,0.2)" stroke-width="1.6"/>
<rect x="464.4" y="1535.08" width="13.6" height="71" fill="#F9B98C"/>
<rect x="465.2" y="1535.88" width="12" height="69.4" fill="none" stroke="rgba(70,70,70,0.2)" stroke-width="1.6"/>
<rect x="478.2" y="1535.08" width="78.7" height="71" fill="#E8041F"/>
<rect x="479" y="1535.88" width="77.1" height="69.4" fill="none" stroke="rgba(70,70,70,0.2)" stroke-width="1.6"/>
<rect x="559.8" y="1535.08" width="21.5" height="71" fill="#5D478E"/>
<rect x="560.6" y="1535.88" width="19.9" height="69.4" fill="none" stroke="rgba(70,70,70,0.2)" stroke-width="1.6"/>
<rect x="583.9" y="1535.08" width="79.2" height="71" fill="#FCCB00"/>
<rect x="584.7" y="1535.88" width="77.6" height="69.4" fill="none" stroke="rgba(70,70,70,0.2)" stroke-width="1.6"/>
<rect x="671.2" y="1535.08" width="79.2" height="71" fill="#918AAB"/>
<rect x="672" y="1535.88" width="77.6" height="69.4" fill="none" stroke="rgba(70,70,70,0.2)" stroke-width="1.6"/>
<rect x="755" y="1535.08" width="79.2" height="71" fill="#74B23C"/>
<rect x="755.8" y="1535.88" width="77.6" height="69.4" fill="none" stroke="rgba(70,70,70,0.2)" stroke-width="1.6"/>
<rect x="837.1" y="1535.08" width="43.6" height="71" fill="#F6A01F"/>
<rect x="837.9" y="1535.88" width="42" height="69.4" fill="none" stroke="rgba(70,70,70,0.2)" stroke-width="1.6"/>
<rect x="885.8" y="1535.08" width="78.9" height="71" fill="#008078"/>
<rect x="886.6" y="1535.88" width="77.3" height="69.4" fill="none" stroke="rgba(70,70,70,0.2)" stroke-width="1.6"/>
<path d="M1048 1570.58H1757" stroke="#a0a0a0" stroke-width="1.5"/>
<rect x="1049" y="1535.08" width="3" height="71" fill="#72B13E"/>
<rect x="1051.5" y="1535.08" width="690.3" height="71" fill="#FCCB00"/>
<rect x="1052.3" y="1535.88" width="688.7" height="69.4" fill="none" stroke="rgba(70,70,70,0.2)" stroke-width="1.6"/>
<rect x="1741.8" y="1535.08" width="5.6" height="71" fill="#72B13E"/>
<rect x="1742.6" y="1535.88" width="4" height="69.4" fill="none" stroke="rgba(70,70,70,0.2)" stroke-width="1.6"/>
<path d="M331 1678.15H975" stroke="#7e7e7e" stroke-width="3"/>
<rect x="334.2" y="1642.65" width="78.7" height="71" fill="#EE5A7E"/>
<rect x="335" y="1643.45" width="77.1" height="69.4" fill="none" stroke="rgba(70,70,70,0.2)" stroke-width="1.6"/>
<rect x="418.2" y="1642.65" width="44.1" height="71" fill="#AAD784"/>
<rect x="419" y="1643.45" width="42.5" height="69.4" fill="none" stroke="rgba(70,70,70,0.2)" stroke-width="1.6"/>
<rect x="464.4" y="1642.65" width="13.6" height="71" fill="#F9B98C"/>
<rect x="465.2" y="1643.45" width="12" height="69.4" fill="none" stroke="rgba(70,70,70,0.2)" stroke-width="1.6"/>
<rect x="478.2" y="1642.65" width="78.7" height="71" fill="#E8041F"/>
<rect x="479" y="1643.45" width="77.1" height="69.4" fill="none" stroke="rgba(70,70,70,0.2)" stroke-width="1.6"/>
<rect x="559.8" y="1642.65" width="21.5" height="71" fill="#5D478E"/>
<rect x="560.6" y="1643.45" width="19.9" height="69.4" fill="none" stroke="rgba(70,70,70,0.2)" stroke-width="1.6"/>
<rect x="583.9" y="1642.65" width="79.2" height="71" fill="#FCCB00"/>
<rect x="584.7" y="1643.45" width="77.6" height="69.4" fill="none" stroke="rgba(70,70,70,0.2)" stroke-width="1.6"/>
<rect x="671.2" y="1642.65" width="79.2" height="71" fill="#918AAB"/>
<rect x="672" y="1643.45" width="77.6" height="69.4" fill="none" stroke="rgba(70,70,70,0.2)" stroke-width="1.6"/>
<rect x="755" y="1642.65" width="79.2" height="71" fill="#74B23C"/>
<rect x="755.8" y="1643.45" width="77.6" height="69.4" fill="none" stroke="rgba(70,70,70,0.2)" stroke-width="1.6"/>
<rect x="837.1" y="1642.65" width="43.6" height="71" fill="#F6A01F"/>
<rect x="837.9" y="1643.45" width="42" height="69.4" fill="none" stroke="rgba(70,70,70,0.2)" stroke-width="1.6"/>
<rect x="885.8" y="1642.65" width="78.9" height="71" fill="#008078"/>
<rect x="886.6" y="1643.45" width="77.3" height="69.4" fill="none" stroke="rgba(70,70,70,0.2)" stroke-width="1.6"/>
<path d="M1048 1678.15H1757" stroke="#a0a0a0" stroke-width="1.5"/>
<rect x="1049" y="1642.65" width="3" height="71" fill="#72B13E"/>
<rect x="1051.5" y="1642.65" width="690.3" height="71" fill="#FCCB00"/>
<rect x="1052.3" y="1643.45" width="688.7" height="69.4" fill="none" stroke="rgba(70,70,70,0.2)" stroke-width="1.6"/>
<rect x="1741.8" y="1642.65" width="5.6" height="71" fill="#72B13E"/>
<rect x="1742.6" y="1643.45" width="4" height="69.4" fill="none" stroke="rgba(70,70,70,0.2)" stroke-width="1.6"/>
<g font-family="Liberation Sans" font-size="25" fill="#4c4c4c">
<rect x="1842.8" y="18.5" width="70.2" height="29" fill="#EE5A7E"/>
<rect x="1843.6" y="19.3" width="68.6" height="27.4" fill="none" stroke="rgba(70,70,70,0.2)" stroke-width="1.6"/>
<text x="1920.5" y="35.8">Motif 3</text>
<rect x="1842.8" y="55" width="70.2" height="29" fill="#AAD784"/>
<rect x="1843.6" y="55.8" width="68.6" height="27.4" fill="none" stroke="rgba(70,70,70,0.2)" stroke-width="1.6"/>
<text x="1920.5" y="72.3">Motif 7</text>
<rect x="1842.8" y="91.5" width="70.2" height="29" fill="#F9B98C"/>
<rect x="1843.6" y="92.3" width="68.6" height="27.4" fill="none" stroke="rgba(70,70,70,0.2)" stroke-width="1.6"/>
<text x="1920.5" y="108.8">Motif 10</text>
<rect x="1842.8" y="128" width="70.2" height="29" fill="#E8041F"/>
<rect x="1843.6" y="128.8" width="68.6" height="27.4" fill="none" stroke="rgba(70,70,70,0.2)" stroke-width="1.6"/>
<text x="1920.5" y="145.3">Motif 5</text>
<rect x="1842.8" y="164.5" width="70.2" height="29" fill="#5D478E"/>
<rect x="1843.6" y="165.3" width="68.6" height="27.4" fill="none" stroke="rgba(70,70,70,0.2)" stroke-width="1.6"/>
<text x="1920.5" y="181.8">Motif 9</text>
<rect x="1842.8" y="201" width="70.2" height="29" fill="#FCCB00"/>
<rect x="1843.6" y="201.8" width="68.6" height="27.4" fill="none" stroke="rgba(70,70,70,0.2)" stroke-width="1.6"/>
<text x="1920.5" y="218.3">Motif 2</text>
<rect x="1842.8" y="237.5" width="70.2" height="29" fill="#918AAB"/>
<rect x="1843.6" y="238.3" width="68.6" height="27.4" fill="none" stroke="rgba(70,70,70,0.2)" stroke-width="1.6"/>
<text x="1920.5" y="254.8">Motif 6</text>
<rect x="1842.8" y="274" width="70.2" height="29" fill="#74B23C"/>
<rect x="1843.6" y="274.8" width="68.6" height="27.4" fill="none" stroke="rgba(70,70,70,0.2)" stroke-width="1.6"/>
<text x="1920.5" y="291.3">Motif 1</text>
<rect x="1842.8" y="310.5" width="70.2" height="29" fill="#F6A01F"/>
<rect x="1843.6" y="311.3" width="68.6" height="27.4" fill="none" stroke="rgba(70,70,70,0.2)" stroke-width="1.6"/>
<text x="1920.5" y="327.8">Motif 8</text>
<rect x="1842.8" y="347" width="70.2" height="29" fill="#008078"/>
<rect x="1843.6" y="347.8" width="68.6" height="27.4" fill="none" stroke="rgba(70,70,70,0.2)" stroke-width="1.6"/>
<text x="1920.5" y="364.3">Motif 4</text>
<rect x="1842.8" y="443" width="70.2" height="29" fill="#72B13E"/>
<rect x="1843.6" y="443.8" width="68.6" height="27.4" fill="none" stroke="rgba(70,70,70,0.2)" stroke-width="1.6"/>
<text x="1921" y="460.3">CDS</text>
<rect x="1842.8" y="479.8" width="70.2" height="29" fill="#FCCB00"/>
<rect x="1843.6" y="480.6" width="68.6" height="27.4" fill="none" stroke="rgba(70,70,70,0.2)" stroke-width="1.6"/>
<text x="1921" y="502.2">S-AdoMet_synt_M</text>
<rect x="1842.8" y="516.6" width="70.2" height="29" fill="#EE5A7E"/>
<rect x="1843.6" y="517.4" width="68.6" height="27.4" fill="none" stroke="rgba(70,70,70,0.2)" stroke-width="1.6"/>
<text x="1921" y="537.6">S-AdoMet_synt_M superfamily</text>
</g>
<g stroke="#a8a8a8" stroke-width="3" fill="none">
<path d="M332.5 1785.4H983.7"/>
<path d="M332.5 1785.4V1818"/>
<path d="M413.9 1785.4V1818"/>
<path d="M495.3 1785.4V1818"/>
<path d="M576.7 1785.4V1818"/>
<path d="M658.1 1785.4V1818"/>
<path d="M739.5 1785.4V1818"/>
<path d="M820.9 1785.4V1818"/>
<path d="M902.3 1785.4V1818"/>
<path d="M983.7 1785.4V1818"/>
<path d="M1051 1785.4H1764.3"/>
<path d="M1051 1785.4V1818"/>
<path d="M1169.88 1785.4V1818"/>
<path d="M1288.77 1785.4V1818"/>
<path d="M1407.65 1785.4V1818"/>
<path d="M1526.53 1785.4V1818"/>
<path d="M1645.42 1785.4V1818"/>
<path d="M1764.3 1785.4V1818"/>
</g>
<g font-family="Liberation Sans" font-size="28.5" fill="#333" text-anchor="middle">
<text x="332.5" y="1844.3">0</text>
<text x="413.9" y="1844.3">50</text>
<text x="495.3" y="1844.3">100</text>
<text x="576.7" y="1844.3">150</text>
<text x="658.1" y="1844.3">200</text>
<text x="739.5" y="1844.3">250</text>
<text x="820.9" y="1844.3">300</text>
<text x="902.3" y="1844.3">350</text>
<text x="983.7" y="1844.3">400</text>
<text x="1051" y="1844.3">0</text>
<text x="1169.88" y="1844.3">200</text>
<text x="1288.77" y="1844.3">400</text>
<text x="1407.65" y="1844.3">600</text>
<text x="1526.53" y="1844.3">800</text>
<text x="1645.42" y="1844.3">1000</text>
<text x="1764.3" y="1844.3">1200</text>
</g>
<g font-family="Liberation Sans" font-size="27.5" fill="#333">
<text x="308" y="1790.5">5'</text>
<text x="990.5" y="1790.5">3'</text>
<text x="1026" y="1790.5">5'</text>
<text x="1770.5" y="1790.5">3'</text>
</g>
<text x="1133.3" y="1952" font-family="Liberation Serif" font-size="87" fill="#000" text-anchor="middle">(<tspan font-weight="bold">A</tspan>)</text>
<g font-family="Liberation Serif" font-size="60" fill="#111">
<text transform="translate(36 2053.7) scale(0.968 1)">Motif 1</text>
<text transform="translate(36 2382.5) scale(0.968 1)">Motif 2</text>
<text transform="translate(36 2709.2) scale(0.968 1)">Motif 3</text>
<text transform="translate(36 3022) scale(0.968 1)">Motif 4</text>
<text transform="translate(36 3349) scale(0.968 1)">Motif 5</text>
<text transform="translate(1206.2 2052.9) scale(0.968 1)">Motif 6</text>
<text transform="translate(1206.2 2382.3) scale(0.968 1)">Motif 7</text>
<text transform="translate(1206.2 2709.7) scale(0.968 1)">Motif 8</text>
<text transform="translate(1207.2 3021) scale(0.968 1)">Motif 9</text>
<text transform="translate(1207.2 3349) scale(0.968 1)">Motif 10</text>
</g>
<g font-family="Liberation Sans" font-weight="bold" font-size="100">
<text transform="matrix(0.32 0 0 3.11 45.13 2093)" x="-1.71" y="68.8" fill="#33E6CC">Y</text>
<text transform="matrix(0.3 0 0 3.02 66.45 2093)" x="-4.1" y="69.82" fill="#FFB300">G</text>
<text transform="matrix(0.3 0 0 3.02 87.77 2093)" x="-4.1" y="69.82" fill="#FFB300">G</text>
<text transform="matrix(0.22 0 0 3.11 109.09 2093)" x="-0.1" y="68.8" fill="#0000CC">W</text>
<text transform="matrix(0.3 0 0 3.02 130.41 2093)" x="-4.1" y="69.82" fill="#FFB300">G</text>
<text transform="matrix(0.31 0 0 3.11 151.73 2093)" x="-2.49" y="68.8" fill="#0000CC">A</text>
<text transform="matrix(0.35 0 0 3.11 173.05 2093)" x="-6.69" y="68.8" fill="#FFCCCC">H</text>
<text transform="matrix(0.3 0 0 3.02 194.37 2093)" x="-4.1" y="69.82" fill="#FFB300">G</text>
<text transform="matrix(0.3 0 0 3.02 215.69 2093)" x="-4.1" y="69.82" fill="#FFB300">G</text>
<text transform="matrix(0.3 0 0 3.02 237.01 2093)" x="-4.1" y="69.82" fill="#FFB300">G</text>
<text transform="matrix(0.31 0 0 3.11 258.33 2093)" x="-2.49" y="68.8" fill="#0000CC">A</text>
<text transform="matrix(0.4 0 0 3.11 279.65 2093)" x="-6.69" y="68.8" fill="#0000CC">F</text>
<text transform="matrix(0.34 0 0 3.02 300.97 2093)" x="-2.88" y="69.82" fill="#008000">S</text>
<text transform="matrix(0.3 0 0 3.02 322.29 2093)" x="-4.1" y="69.82" fill="#FFB300">G</text>
<text transform="matrix(0.32 0 0 3.11 343.61 2093)" x="-6.69" y="68.8" fill="#CC0000">K</text>
<text transform="matrix(0.33 0 0 3.11 364.93 2093)" x="-6.69" y="68.8" fill="#FF00FF">D</text>
<text transform="matrix(0.36 0 0 3.11 386.25 2093)" x="-6.69" y="68.8" fill="#FFFF00">P</text>
<text transform="matrix(0.35 0 0 3.11 407.57 2093)" x="-1.12" y="68.8" fill="#008000">T</text>
<text transform="matrix(0.32 0 0 3.11 428.89 2093)" x="-6.69" y="68.8" fill="#CC0000">K</text>
<text transform="matrix(0.31 0 0 3.11 450.21 2093)" x="-0.68" y="68.8" fill="#0000CC">V</text>
<text transform="matrix(0.33 0 0 3.11 471.53 2093)" x="-6.69" y="68.8" fill="#FF00FF">D</text>
<text transform="matrix(0.32 0 0 3.11 492.85 2093)" x="-6.69" y="68.8" fill="#CC0000">R</text>
<text transform="matrix(0.34 0 0 3.02 514.17 2093)" x="-2.88" y="69.82" fill="#008000">S</text>
<text transform="matrix(0.3 0 0 3.02 535.49 2093)" x="-4.1" y="69.82" fill="#FFB300">G</text>
<text transform="matrix(0.31 0 0 2.7 556.81 2110.1)" x="-2.49" y="68.8" fill="#0000CC">A</text>
<text transform="matrix(0.34 0 0 0.16 556.81 2295.59)" x="-2.88" y="69.82" fill="#008000">S</text>
<text transform="matrix(0.32 0 0 3.11 578.13 2093)" x="-1.71" y="68.8" fill="#33E6CC">Y</text>
<text transform="matrix(0.29 0 0 3.11 607.6 2093)" x="-6.69" y="68.8" fill="#0000CC">I</text>
<text transform="matrix(0.31 0 0 3.11 620.77 2093)" x="-0.68" y="68.8" fill="#0000CC">V</text>
<text transform="matrix(0.32 0 0 3.11 642.09 2093)" x="-6.69" y="68.8" fill="#CC0000">R</text>
<clipPath id="cq1"><rect x="662.41" y="2092" width="22.47" height="214.7"/></clipPath>
<g clip-path="url(#cq1)"><text transform="matrix(0.29 0 0 2.89 663.41 2093)" x="-4.1" y="69.82" fill="#008000">Q</text></g>
<text transform="matrix(0.31 0 0 3.11 684.73 2093)" x="-2.49" y="68.8" fill="#0000CC">A</text>
<text transform="matrix(0.31 0 0 3.11 706.05 2093)" x="-2.49" y="68.8" fill="#0000CC">A</text>
<text transform="matrix(0.32 0 0 3.11 727.37 2093)" x="-6.69" y="68.8" fill="#CC0000">K</text>
<text transform="matrix(0.34 0 0 3.02 748.69 2093)" x="-2.88" y="69.82" fill="#008000">S</text>
<text transform="matrix(0.29 0 0 1.51 778.16 2139.59)" x="-6.69" y="68.8" fill="#0000CC">I</text>
<text transform="matrix(0.31 0 0 0.92 770.01 2243.44)" x="-0.68" y="68.8" fill="#0000CC">V</text>
<text transform="matrix(0.31 0 0 3.11 791.33 2093)" x="-0.68" y="68.8" fill="#0000CC">V</text>
<text transform="matrix(0.31 0 0 3.11 812.65 2093)" x="-2.49" y="68.8" fill="#0000CC">A</text>
<text transform="matrix(0.35 0 0 1.56 833.97 2139.59)" x="-6.69" y="68.8" fill="#008000">N</text>
<text transform="matrix(0.34 0 0 0.84 833.97 2247.08)" x="-2.88" y="69.82" fill="#008000">S</text>
<text transform="matrix(0.3 0 0 3.02 855.29 2093)" x="-4.1" y="69.82" fill="#FFB300">G</text>
<text transform="matrix(0.4 0 0 3.11 876.61 2093)" x="-6.69" y="68.8" fill="#0000CC">L</text>
<text transform="matrix(0.31 0 0 3.11 897.93 2093)" x="-2.49" y="68.8" fill="#0000CC">A</text>
<text transform="matrix(0.32 0 0 3.11 919.25 2093)" x="-6.69" y="68.8" fill="#CC0000">R</text>
<text transform="matrix(0.32 0 0 3.11 940.57 2093)" x="-6.69" y="68.8" fill="#CC0000">R</text>
<text transform="matrix(0.31 0 0 3.02 961.89 2093)" x="-4.1" y="69.82" fill="#0000CC">C</text>
<text transform="matrix(0.29 0 0 1.78 991.36 2132.11)" x="-6.69" y="68.8" fill="#0000CC">I</text>
<text transform="matrix(0.4 0 0 0.75 983.21 2254.77)" x="-6.69" y="68.8" fill="#0000CC">L</text>
<text transform="matrix(0.31 0 0 3.11 1004.53 2093)" x="-0.68" y="68.8" fill="#0000CC">V</text>
<clipPath id="cq2"><rect x="1024.85" y="2092" width="22.47" height="214.7"/></clipPath>
<g clip-path="url(#cq2)"><text transform="matrix(0.29 0 0 2.89 1025.85 2093)" x="-4.1" y="69.82" fill="#008000">Q</text></g>
<text transform="matrix(0.31 0 0 3.11 1047.17 2093)" x="-0.68" y="68.8" fill="#0000CC">V</text>
<text transform="matrix(0.34 0 0 3.02 1068.49 2093)" x="-2.88" y="69.82" fill="#008000">S</text>
<text transform="matrix(0.32 0 0 3.11 1089.81 2093)" x="-1.71" y="68.8" fill="#33E6CC">Y</text>
</g>
<g stroke="#7a7a7a" stroke-width="2.4" fill="none">
<path d="M43.3 2091 V2307.7"/>
<path d="M34.3 2306.7 H43.3"/>
<path d="M34.3 2256.5 H43.3"/>
<path d="M34.3 2206.3 H43.3"/>
<path d="M34.3 2156.1 H43.3"/>
<path d="M34.3 2105.9 H43.3"/>
</g>
<g font-family="Liberation Sans" font-weight="bold" font-size="15" fill="#3a3a3a" text-anchor="end">
<text transform="translate(33.3 2310.75) scale(1.0 1)">0</text>
<text transform="translate(33.3 2260.55) scale(1.0 1)">1</text>
<text transform="translate(33.3 2210.35) scale(1.0 1)">2</text>
<text transform="translate(33.3 2160.15) scale(1.0 1)">3</text>
<text transform="translate(33.3 2109.95) scale(1.0 1)">4</text>
</g>
<text transform="translate(21.3 2199.8) rotate(-90) scale(1 1.0)" font-family="Liberation Sans" font-weight="bold" font-size="15" fill="#3a3a3a" text-anchor="middle">bits</text>
<g font-family="Liberation Sans" font-weight="bold" font-size="12" fill="#3a3a3a" text-anchor="end">
<text transform="translate(60.54 2309.7) rotate(-90) scale(0.95 1.2)">1</text>
<text transform="translate(81.86 2309.7) rotate(-90) scale(0.95 1.2)">2</text>
<text transform="translate(103.18 2309.7) rotate(-90) scale(0.95 1.2)">3</text>
<text transform="translate(124.5 2309.7) rotate(-90) scale(0.95 1.2)">4</text>
<text transform="translate(145.82 2309.7) rotate(-90) scale(0.95 1.2)">5</text>
<text transform="translate(167.14 2309.7) rotate(-90) scale(0.95 1.2)">6</text>
<text transform="translate(188.46 2309.7) rotate(-90) scale(0.95 1.2)">7</text>
<text transform="translate(209.78 2309.7) rotate(-90) scale(0.95 1.2)">8</text>
<text transform="translate(231.1 2309.7) rotate(-90) scale(0.95 1.2)">9</text>
<text transform="translate(252.42 2309.7) rotate(-90) scale(0.95 1.2)">10</text>
<text transform="translate(273.74 2309.7) rotate(-90) scale(0.95 1.2)">11</text>
<text transform="translate(295.06 2309.7) rotate(-90) scale(0.95 1.2)">12</text>
<text transform="translate(316.38 2309.7) rotate(-90) scale(0.95 1.2)">13</text>
<text transform="translate(337.7 2309.7) rotate(-90) scale(0.95 1.2)">14</text>
<text transform="translate(359.02 2309.7) rotate(-90) scale(0.95 1.2)">15</text>
<text transform="translate(380.34 2309.7) rotate(-90) scale(0.95 1.2)">16</text>
<text transform="translate(401.66 2309.7) rotate(-90) scale(0.95 1.2)">17</text>
<text transform="translate(422.98 2309.7) rotate(-90) scale(0.95 1.2)">18</text>
<text transform="translate(444.3 2309.7) rotate(-90) scale(0.95 1.2)">19</text>
<text transform="translate(465.62 2309.7) rotate(-90) scale(0.95 1.2)">20</text>
<text transform="translate(486.94 2309.7) rotate(-90) scale(0.95 1.2)">21</text>
<text transform="translate(508.26 2309.7) rotate(-90) scale(0.95 1.2)">22</text>
<text transform="translate(529.58 2309.7) rotate(-90) scale(0.95 1.2)">23</text>
<text transform="translate(550.9 2309.7) rotate(-90) scale(0.95 1.2)">24</text>
<text transform="translate(572.22 2309.7) rotate(-90) scale(0.95 1.2)">25</text>
<text transform="translate(593.54 2309.7) rotate(-90) scale(0.95 1.2)">26</text>
<text transform="translate(614.86 2309.7) rotate(-90) scale(0.95 1.2)">27</text>
<text transform="translate(636.18 2309.7) rotate(-90) scale(0.95 1.2)">28</text>
<text transform="translate(657.5 2309.7) rotate(-90) scale(0.95 1.2)">29</text>
<text transform="translate(678.82 2309.7) rotate(-90) scale(0.95 1.2)">30</text>
<text transform="translate(700.14 2309.7) rotate(-90) scale(0.95 1.2)">31</text>
<text transform="translate(721.46 2309.7) rotate(-90) scale(0.95 1.2)">32</text>
<text transform="translate(742.78 2309.7) rotate(-90) scale(0.95 1.2)">33</text>
<text transform="translate(764.1 2309.7) rotate(-90) scale(0.95 1.2)">34</text>
<text transform="translate(785.42 2309.7) rotate(-90) scale(0.95 1.2)">35</text>
<text transform="translate(806.74 2309.7) rotate(-90) scale(0.95 1.2)">36</text>
<text transform="translate(828.06 2309.7) rotate(-90) scale(0.95 1.2)">37</text>
<text transform="translate(849.38 2309.7) rotate(-90) scale(0.95 1.2)">38</text>
<text transform="translate(870.7 2309.7) rotate(-90) scale(0.95 1.2)">39</text>
<text transform="translate(892.02 2309.7) rotate(-90) scale(0.95 1.2)">40</text>
<text transform="translate(913.34 2309.7) rotate(-90) scale(0.95 1.2)">41</text>
<text transform="translate(934.66 2309.7) rotate(-90) scale(0.95 1.2)">42</text>
<text transform="translate(955.98 2309.7) rotate(-90) scale(0.95 1.2)">43</text>
<text transform="translate(977.3 2309.7) rotate(-90) scale(0.95 1.2)">44</text>
<text transform="translate(998.62 2309.7) rotate(-90) scale(0.95 1.2)">45</text>
<text transform="translate(1019.94 2309.7) rotate(-90) scale(0.95 1.2)">46</text>
<text transform="translate(1041.26 2309.7) rotate(-90) scale(0.95 1.2)">47</text>
<text transform="translate(1062.58 2309.7) rotate(-90) scale(0.95 1.2)">48</text>
<text transform="translate(1083.9 2309.7) rotate(-90) scale(0.95 1.2)">49</text>
<text transform="translate(1105.22 2309.7) rotate(-90) scale(0.95 1.2)">50</text>
</g>
<text x="995" y="2338.1" font-family="Liberation Sans" font-size="8" fill="#666" textLength="124" lengthAdjust="spacingAndGlyphs">MEME (no SSC) 16.02.2022 03:35</text>
<g font-family="Liberation Sans" font-weight="bold" font-size="100">
<text transform="matrix(0.36 0 0 2.36 44.83 2430.39)" x="-6.69" y="68.8" fill="#FF00FF">E</text>
<text transform="matrix(0.33 0 0 0.37 44.83 2592.9)" x="-6.69" y="68.8" fill="#FF00FF">D</text>
<text transform="matrix(0.31 0 0 3.12 66.16 2403.8)" x="-0.68" y="68.8" fill="#0000CC">V</text>
<text transform="matrix(0.32 0 0 3.12 87.49 2403.8)" x="-6.69" y="68.8" fill="#CC0000">R</text>
<text transform="matrix(0.32 0 0 3.12 108.82 2403.8)" x="-6.69" y="68.8" fill="#CC0000">K</text>
<text transform="matrix(0.35 0 0 3.12 130.15 2403.8)" x="-6.69" y="68.8" fill="#008000">N</text>
<text transform="matrix(0.3 0 0 1.48 151.48 2451.83)" x="-4.1" y="69.82" fill="#FFB300">G</text>
<text transform="matrix(0.32 0 0 0.9 151.48 2556.45)" x="-6.69" y="68.8" fill="#CC0000">K</text>
<text transform="matrix(0.35 0 0 3.12 172.81 2403.8)" x="-1.12" y="68.8" fill="#008000">T</text>
<text transform="matrix(0.31 0 0 3.03 194.14 2403.8)" x="-4.1" y="69.82" fill="#0000CC">C</text>
<text transform="matrix(0.36 0 0 2.7 215.47 2420.09)" x="-6.69" y="68.8" fill="#FFFF00">P</text>
<clipPath id="cq3"><rect x="214.47" y="2604.55" width="22.48" height="13.65"/></clipPath>
<g clip-path="url(#cq3)"><text transform="matrix(0.29 0 0 0.17 215.47 2605.55)" x="-4.1" y="69.82" fill="#008000">Q</text></g>
<text transform="matrix(0.22 0 0 3.12 236.8 2403.8)" x="-0.1" y="68.8" fill="#0000CC">W</text>
<text transform="matrix(0.4 0 0 3.12 258.13 2403.8)" x="-6.69" y="68.8" fill="#0000CC">L</text>
<text transform="matrix(0.32 0 0 3.12 279.46 2403.8)" x="-6.69" y="68.8" fill="#CC0000">R</text>
<text transform="matrix(0.36 0 0 3.12 300.79 2403.8)" x="-6.69" y="68.8" fill="#FFFF00">P</text>
<text transform="matrix(0.33 0 0 3.12 322.12 2403.8)" x="-6.69" y="68.8" fill="#FF00FF">D</text>
<text transform="matrix(0.3 0 0 3.03 343.45 2403.8)" x="-4.1" y="69.82" fill="#FFB300">G</text>
<text transform="matrix(0.32 0 0 3.12 364.78 2403.8)" x="-6.69" y="68.8" fill="#CC0000">K</text>
<text transform="matrix(0.35 0 0 3.12 386.11 2403.8)" x="-1.12" y="68.8" fill="#008000">T</text>
<clipPath id="cq4"><rect x="406.44" y="2402.8" width="22.48" height="215.4"/></clipPath>
<g clip-path="url(#cq4)"><text transform="matrix(0.29 0 0 2.9 407.44 2403.8)" x="-4.1" y="69.82" fill="#008000">Q</text></g>
<text transform="matrix(0.31 0 0 3.12 428.77 2403.8)" x="-0.68" y="68.8" fill="#0000CC">V</text>
<text transform="matrix(0.35 0 0 3.12 450.1 2403.8)" x="-1.12" y="68.8" fill="#008000">T</text>
<text transform="matrix(0.31 0 0 3.12 471.43 2403.8)" x="-0.68" y="68.8" fill="#0000CC">V</text>
<text transform="matrix(0.36 0 0 3.12 492.76 2403.8)" x="-6.69" y="68.8" fill="#FF00FF">E</text>
<text transform="matrix(0.32 0 0 3.12 514.09 2403.8)" x="-1.71" y="68.8" fill="#33E6CC">Y</text>
<text transform="matrix(0.32 0 0 0.84 535.42 2500.92)" x="-1.71" y="68.8" fill="#33E6CC">Y</text>
<text transform="matrix(0.32 0 0 0.26 535.42 2559.03)" x="-6.69" y="68.8" fill="#CC0000">R</text>
<clipPath id="cq5"><rect x="534.42" y="2575.61" width="22.48" height="16.01"/></clipPath>
<g clip-path="url(#cq5)"><text transform="matrix(0.29 0 0 0.2 535.42 2576.61)" x="-4.1" y="69.82" fill="#008000">Q</text></g>
<text transform="matrix(0.35 0 0 0.26 535.42 2591.61)" x="-6.69" y="68.8" fill="#008000">N</text>
<text transform="matrix(0.4 0 0 0.13 535.42 2609.41)" x="-6.69" y="68.8" fill="#0000CC">L</text>
<text transform="matrix(0.35 0 0 2.56 556.75 2419.02)" x="-6.69" y="68.8" fill="#008000">N</text>
<text transform="matrix(0.33 0 0 0.33 556.75 2595.47)" x="-6.69" y="68.8" fill="#FF00FF">D</text>
<text transform="matrix(0.33 0 0 2.38 578.08 2430.39)" x="-6.69" y="68.8" fill="#FF00FF">D</text>
<text transform="matrix(0.36 0 0 0.35 578.08 2594.19)" x="-6.69" y="68.8" fill="#FF00FF">E</text>
<text transform="matrix(0.35 0 0 0.5 599.41 2505.85)" x="-6.69" y="68.8" fill="#008000">N</text>
<text transform="matrix(0.3 0 0 0.45 599.41 2539.94)" x="-4.1" y="69.82" fill="#FFB300">G</text>
<text transform="matrix(0.32 0 0 0.48 599.41 2571.46)" x="-6.69" y="68.8" fill="#CC0000">K</text>
<text transform="matrix(0.34 0 0 0.11 599.41 2604.26)" x="-2.88" y="69.82" fill="#008000">S</text>
<text transform="matrix(0.36 0 0 0.09 599.41 2611.77)" x="-6.69" y="68.8" fill="#FF00FF">E</text>
<text transform="matrix(0.3 0 0 3.03 620.74 2403.8)" x="-4.1" y="69.82" fill="#FFB300">G</text>
<text transform="matrix(0.31 0 0 3.12 642.07 2403.8)" x="-2.49" y="68.8" fill="#0000CC">A</text>
<text transform="matrix(0.29 0 0 2.7 663.4 2420.09)" x="-6.69" y="68.8" fill="#0000CC">M</text>
<text transform="matrix(0.35 0 0 0.18 663.4 2605.55)" x="-1.12" y="68.8" fill="#008000">T</text>
<text transform="matrix(0.31 0 0 3.12 684.73 2403.8)" x="-0.68" y="68.8" fill="#0000CC">V</text>
<text transform="matrix(0.36 0 0 3.12 706.06 2403.8)" x="-6.69" y="68.8" fill="#FFFF00">P</text>
<text transform="matrix(0.31 0 0 1.89 727.39 2444.11)" x="-0.68" y="68.8" fill="#0000CC">V</text>
<text transform="matrix(0.29 0 0 0.64 735.55 2574.03)" x="-6.69" y="68.8" fill="#0000CC">I</text>
<text transform="matrix(0.32 0 0 3.12 748.72 2403.8)" x="-6.69" y="68.8" fill="#CC0000">R</text>
<text transform="matrix(0.31 0 0 3.12 770.05 2403.8)" x="-0.68" y="68.8" fill="#0000CC">V</text>
<text transform="matrix(0.35 0 0 3.12 791.38 2403.8)" x="-6.69" y="68.8" fill="#FFCCCC">H</text>
<text transform="matrix(0.35 0 0 3.12 812.71 2403.8)" x="-1.12" y="68.8" fill="#008000">T</text>
<text transform="matrix(0.31 0 0 2.38 834.04 2429.53)" x="-0.68" y="68.8" fill="#0000CC">V</text>
<text transform="matrix(0.29 0 0 0.36 842.2 2593.12)" x="-6.69" y="68.8" fill="#0000CC">I</text>
<text transform="matrix(0.4 0 0 3.12 855.37 2403.8)" x="-6.69" y="68.8" fill="#0000CC">L</text>
<text transform="matrix(0.29 0 0 3.12 884.86 2403.8)" x="-6.69" y="68.8" fill="#0000CC">I</text>
<text transform="matrix(0.34 0 0 3.03 898.03 2403.8)" x="-2.88" y="69.82" fill="#008000">S</text>
<text transform="matrix(0.35 0 0 3.12 919.36 2403.8)" x="-1.12" y="68.8" fill="#008000">T</text>
<clipPath id="cq6"><rect x="939.69" y="2402.8" width="22.48" height="215.4"/></clipPath>
<g clip-path="url(#cq6)"><text transform="matrix(0.29 0 0 2.9 940.69 2403.8)" x="-4.1" y="69.82" fill="#008000">Q</text></g>
<text transform="matrix(0.35 0 0 3.12 962.02 2403.8)" x="-6.69" y="68.8" fill="#FFCCCC">H</text>
<text transform="matrix(0.33 0 0 3.12 983.35 2403.8)" x="-6.69" y="68.8" fill="#FF00FF">D</text>
<text transform="matrix(0.36 0 0 3.12 1004.68 2403.8)" x="-6.69" y="68.8" fill="#FF00FF">E</text>
<text transform="matrix(0.35 0 0 3.12 1026.01 2403.8)" x="-1.12" y="68.8" fill="#008000">T</text>
<text transform="matrix(0.31 0 0 3.12 1047.34 2403.8)" x="-0.68" y="68.8" fill="#0000CC">V</text>
<text transform="matrix(0.35 0 0 3.12 1068.67 2403.8)" x="-1.12" y="68.8" fill="#008000">T</text>
<text transform="matrix(0.35 0 0 3.12 1090 2403.8)" x="-6.69" y="68.8" fill="#008000">N</text>
</g>
<g stroke="#7a7a7a" stroke-width="2.4" fill="none">
<path d="M43.6 2401.8 V2619.2"/>
<path d="M34.6 2618.2 H43.6"/>
<path d="M34.6 2568.4 H43.6"/>
<path d="M34.6 2518.6 H43.6"/>
<path d="M34.6 2468.8 H43.6"/>
<path d="M34.6 2419 H43.6"/>
</g>
<g font-family="Liberation Sans" font-weight="bold" font-size="15" fill="#3a3a3a" text-anchor="end">
<text transform="translate(33.6 2622.25) scale(1.0 1)">0</text>
<text transform="translate(33.6 2572.45) scale(1.0 1)">1</text>
<text transform="translate(33.6 2522.65) scale(1.0 1)">2</text>
<text transform="translate(33.6 2472.85) scale(1.0 1)">3</text>
<text transform="translate(33.6 2423.05) scale(1.0 1)">4</text>
</g>
<text transform="translate(21.6 2512.1) rotate(-90) scale(1 1.0)" font-family="Liberation Sans" font-weight="bold" font-size="15" fill="#3a3a3a" text-anchor="middle">bits</text>
<g font-family="Liberation Sans" font-weight="bold" font-size="12" fill="#3a3a3a" text-anchor="end">
<text transform="translate(60.25 2621.2) rotate(-90) scale(0.95 1.2)">1</text>
<text transform="translate(81.58 2621.2) rotate(-90) scale(0.95 1.2)">2</text>
<text transform="translate(102.91 2621.2) rotate(-90) scale(0.95 1.2)">3</text>
<text transform="translate(124.24 2621.2) rotate(-90) scale(0.95 1.2)">4</text>
<text transform="translate(145.57 2621.2) rotate(-90) scale(0.95 1.2)">5</text>
<text transform="translate(166.9 2621.2) rotate(-90) scale(0.95 1.2)">6</text>
<text transform="translate(188.23 2621.2) rotate(-90) scale(0.95 1.2)">7</text>
<text transform="translate(209.56 2621.2) rotate(-90) scale(0.95 1.2)">8</text>
<text transform="translate(230.89 2621.2) rotate(-90) scale(0.95 1.2)">9</text>
<text transform="translate(252.22 2621.2) rotate(-90) scale(0.95 1.2)">10</text>
<text transform="translate(273.55 2621.2) rotate(-90) scale(0.95 1.2)">11</text>
<text transform="translate(294.88 2621.2) rotate(-90) scale(0.95 1.2)">12</text>
<text transform="translate(316.21 2621.2) rotate(-90) scale(0.95 1.2)">13</text>
<text transform="translate(337.54 2621.2) rotate(-90) scale(0.95 1.2)">14</text>
<text transform="translate(358.87 2621.2) rotate(-90) scale(0.95 1.2)">15</text>
<text transform="translate(380.2 2621.2) rotate(-90) scale(0.95 1.2)">16</text>
<text transform="translate(401.53 2621.2) rotate(-90) scale(0.95 1.2)">17</text>
<text transform="translate(422.86 2621.2) rotate(-90) scale(0.95 1.2)">18</text>
<text transform="translate(444.19 2621.2) rotate(-90) scale(0.95 1.2)">19</text>
<text transform="translate(465.52 2621.2) rotate(-90) scale(0.95 1.2)">20</text>
<text transform="translate(486.85 2621.2) rotate(-90) scale(0.95 1.2)">21</text>
<text transform="translate(508.18 2621.2) rotate(-90) scale(0.95 1.2)">22</text>
<text transform="translate(529.51 2621.2) rotate(-90) scale(0.95 1.2)">23</text>
<text transform="translate(550.84 2621.2) rotate(-90) scale(0.95 1.2)">24</text>
<text transform="translate(572.17 2621.2) rotate(-90) scale(0.95 1.2)">25</text>
<text transform="translate(593.5 2621.2) rotate(-90) scale(0.95 1.2)">26</text>
<text transform="translate(614.83 2621.2) rotate(-90) scale(0.95 1.2)">27</text>
<text transform="translate(636.16 2621.2) rotate(-90) scale(0.95 1.2)">28</text>
<text transform="translate(657.49 2621.2) rotate(-90) scale(0.95 1.2)">29</text>
<text transform="translate(678.82 2621.2) rotate(-90) scale(0.95 1.2)">30</text>
<text transform="translate(700.15 2621.2) rotate(-90) scale(0.95 1.2)">31</text>
<text transform="translate(721.48 2621.2) rotate(-90) scale(0.95 1.2)">32</text>
<text transform="translate(742.81 2621.2) rotate(-90) scale(0.95 1.2)">33</text>
<text transform="translate(764.14 2621.2) rotate(-90) scale(0.95 1.2)">34</text>
<text transform="translate(785.47 2621.2) rotate(-90) scale(0.95 1.2)">35</text>
<text transform="translate(806.8 2621.2) rotate(-90) scale(0.95 1.2)">36</text>
<text transform="translate(828.13 2621.2) rotate(-90) scale(0.95 1.2)">37</text>
<text transform="translate(849.46 2621.2) rotate(-90) scale(0.95 1.2)">38</text>
<text transform="translate(870.79 2621.2) rotate(-90) scale(0.95 1.2)">39</text>
<text transform="translate(892.12 2621.2) rotate(-90) scale(0.95 1.2)">40</text>
<text transform="translate(913.45 2621.2) rotate(-90) scale(0.95 1.2)">41</text>
<text transform="translate(934.78 2621.2) rotate(-90) scale(0.95 1.2)">42</text>
<text transform="translate(956.11 2621.2) rotate(-90) scale(0.95 1.2)">43</text>
<text transform="translate(977.44 2621.2) rotate(-90) scale(0.95 1.2)">44</text>
<text transform="translate(998.77 2621.2) rotate(-90) scale(0.95 1.2)">45</text>
<text transform="translate(1020.1 2621.2) rotate(-90) scale(0.95 1.2)">46</text>
<text transform="translate(1041.43 2621.2) rotate(-90) scale(0.95 1.2)">47</text>
<text transform="translate(1062.76 2621.2) rotate(-90) scale(0.95 1.2)">48</text>
<text transform="translate(1084.09 2621.2) rotate(-90) scale(0.95 1.2)">49</text>
<text transform="translate(1105.42 2621.2) rotate(-90) scale(0.95 1.2)">50</text>
</g>
<text x="995" y="2649.6" font-family="Liberation Sans" font-size="8" fill="#666" textLength="124" lengthAdjust="spacingAndGlyphs">MEME (no SSC) 16.02.2022 03:35</text>
<g font-family="Liberation Sans" font-weight="bold" font-size="100">
<text transform="matrix(0.29 0 0 3.12 39.73 2723.8)" x="-6.69" y="68.8" fill="#0000CC">M</text>
<text transform="matrix(0.36 0 0 1.41 61.05 2772.9)" x="-6.69" y="68.8" fill="#FF00FF">E</text>
<text transform="matrix(0.33 0 0 0.99 61.05 2870.02)" x="-6.69" y="68.8" fill="#FF00FF">D</text>
<text transform="matrix(0.35 0 0 3.12 82.37 2723.8)" x="-1.12" y="68.8" fill="#008000">T</text>
<text transform="matrix(0.4 0 0 3.12 103.69 2723.8)" x="-6.69" y="68.8" fill="#0000CC">F</text>
<text transform="matrix(0.4 0 0 3.12 125.01 2723.8)" x="-6.69" y="68.8" fill="#0000CC">L</text>
<text transform="matrix(0.4 0 0 3.12 146.33 2723.8)" x="-6.69" y="68.8" fill="#0000CC">F</text>
<text transform="matrix(0.35 0 0 3.12 167.65 2723.8)" x="-1.12" y="68.8" fill="#008000">T</text>
<text transform="matrix(0.34 0 0 3.03 188.97 2723.8)" x="-2.88" y="69.82" fill="#008000">S</text>
<text transform="matrix(0.36 0 0 3.12 210.29 2723.8)" x="-6.69" y="68.8" fill="#FF00FF">E</text>
<text transform="matrix(0.34 0 0 3.03 231.61 2723.8)" x="-2.88" y="69.82" fill="#008000">S</text>
<text transform="matrix(0.31 0 0 3.12 252.93 2723.8)" x="-0.68" y="68.8" fill="#0000CC">V</text>
<text transform="matrix(0.35 0 0 3.12 274.25 2723.8)" x="-6.69" y="68.8" fill="#008000">N</text>
<text transform="matrix(0.36 0 0 3.12 295.57 2723.8)" x="-6.69" y="68.8" fill="#FF00FF">E</text>
<text transform="matrix(0.3 0 0 3.03 316.89 2723.8)" x="-4.1" y="69.82" fill="#FFB300">G</text>
<text transform="matrix(0.35 0 0 3.12 338.21 2723.8)" x="-6.69" y="68.8" fill="#FFCCCC">H</text>
<text transform="matrix(0.36 0 0 3.12 359.53 2723.8)" x="-6.69" y="68.8" fill="#FFFF00">P</text>
<text transform="matrix(0.33 0 0 3.12 380.85 2723.8)" x="-6.69" y="68.8" fill="#FF00FF">D</text>
<text transform="matrix(0.32 0 0 3.12 402.17 2723.8)" x="-6.69" y="68.8" fill="#CC0000">K</text>
<text transform="matrix(0.4 0 0 1.41 423.49 2772.9)" x="-6.69" y="68.8" fill="#0000CC">L</text>
<text transform="matrix(0.29 0 0 0.99 431.64 2870.02)" x="-6.69" y="68.8" fill="#0000CC">I</text>
<text transform="matrix(0.31 0 0 3.03 444.81 2723.8)" x="-4.1" y="69.82" fill="#0000CC">C</text>
<text transform="matrix(0.33 0 0 3.12 466.13 2723.8)" x="-6.69" y="68.8" fill="#FF00FF">D</text>
<clipPath id="cq7"><rect x="486.45" y="2722.8" width="22.47" height="215.4"/></clipPath>
<g clip-path="url(#cq7)"><text transform="matrix(0.29 0 0 2.9 487.45 2723.8)" x="-4.1" y="69.82" fill="#008000">Q</text></g>
<text transform="matrix(0.31 0 0 1.27 508.77 2772.9)" x="-0.68" y="68.8" fill="#0000CC">V</text>
<text transform="matrix(0.29 0 0 1.14 516.92 2859.94)" x="-6.69" y="68.8" fill="#0000CC">I</text>
<text transform="matrix(0.34 0 0 3.03 530.09 2723.8)" x="-2.88" y="69.82" fill="#008000">S</text>
<text transform="matrix(0.33 0 0 3.12 551.41 2723.8)" x="-6.69" y="68.8" fill="#FF00FF">D</text>
<text transform="matrix(0.31 0 0 3.12 572.73 2723.8)" x="-2.49" y="68.8" fill="#0000CC">A</text>
<text transform="matrix(0.31 0 0 1.39 594.05 2772.9)" x="-0.68" y="68.8" fill="#0000CC">V</text>
<text transform="matrix(0.29 0 0 1.01 602.2 2868.73)" x="-6.69" y="68.8" fill="#0000CC">I</text>
<text transform="matrix(0.4 0 0 3.12 615.37 2723.8)" x="-6.69" y="68.8" fill="#0000CC">L</text>
<text transform="matrix(0.33 0 0 3.12 636.69 2723.8)" x="-6.69" y="68.8" fill="#FF00FF">D</text>
<text transform="matrix(0.31 0 0 3.12 658.01 2723.8)" x="-2.49" y="68.8" fill="#0000CC">A</text>
<text transform="matrix(0.31 0 0 3.03 679.33 2723.8)" x="-4.1" y="69.82" fill="#0000CC">C</text>
<text transform="matrix(0.4 0 0 3.12 700.65 2723.8)" x="-6.69" y="68.8" fill="#0000CC">L</text>
<text transform="matrix(0.31 0 0 1.41 721.97 2772.9)" x="-2.49" y="68.8" fill="#0000CC">A</text>
<text transform="matrix(0.36 0 0 0.99 721.97 2870.02)" x="-6.69" y="68.8" fill="#FF00FF">E</text>
<clipPath id="cq8"><rect x="742.29" y="2722.8" width="22.47" height="215.4"/></clipPath>
<g clip-path="url(#cq8)"><text transform="matrix(0.29 0 0 2.9 743.29 2723.8)" x="-4.1" y="69.82" fill="#008000">Q</text></g>
<text transform="matrix(0.33 0 0 3.12 764.61 2723.8)" x="-6.69" y="68.8" fill="#FF00FF">D</text>
<text transform="matrix(0.36 0 0 3.12 785.93 2723.8)" x="-6.69" y="68.8" fill="#FFFF00">P</text>
<text transform="matrix(0.36 0 0 1.28 807.25 2772.9)" x="-6.69" y="68.8" fill="#FF00FF">E</text>
<text transform="matrix(0.33 0 0 1.12 807.25 2861.23)" x="-6.69" y="68.8" fill="#FF00FF">D</text>
<text transform="matrix(0.34 0 0 3.03 828.57 2723.8)" x="-2.88" y="69.82" fill="#008000">S</text>
<text transform="matrix(0.32 0 0 3.12 849.89 2723.8)" x="-6.69" y="68.8" fill="#CC0000">K</text>
<text transform="matrix(0.31 0 0 3.12 871.21 2723.8)" x="-0.68" y="68.8" fill="#0000CC">V</text>
<text transform="matrix(0.31 0 0 3.12 892.53 2723.8)" x="-2.49" y="68.8" fill="#0000CC">A</text>
<text transform="matrix(0.31 0 0 3.03 913.85 2723.8)" x="-4.1" y="69.82" fill="#0000CC">C</text>
<text transform="matrix(0.36 0 0 3.12 935.17 2723.8)" x="-6.69" y="68.8" fill="#FF00FF">E</text>
<text transform="matrix(0.35 0 0 3.12 956.49 2723.8)" x="-1.12" y="68.8" fill="#008000">T</text>
<text transform="matrix(0.31 0 0 3.03 977.81 2723.8)" x="-4.1" y="69.82" fill="#0000CC">C</text>
<text transform="matrix(0.35 0 0 2.09 999.13 2760.46)" x="-1.12" y="68.8" fill="#008000">T</text>
<text transform="matrix(0.34 0 0 0.48 999.13 2904.11)" x="-2.88" y="69.82" fill="#008000">S</text>
<text transform="matrix(0.32 0 0 3.12 1020.45 2723.8)" x="-6.69" y="68.8" fill="#CC0000">K</text>
<text transform="matrix(0.35 0 0 3.12 1041.77 2723.8)" x="-1.12" y="68.8" fill="#008000">T</text>
<text transform="matrix(0.35 0 0 3.12 1063.09 2723.8)" x="-6.69" y="68.8" fill="#008000">N</text>
<text transform="matrix(0.22 0 0 3.12 1084.41 2723.8)" x="-0.1" y="68.8" fill="#0000CC">W</text>
</g>
<g stroke="#7a7a7a" stroke-width="2.4" fill="none">
<path d="M38.8 2721.8 V2939.2"/>
<path d="M29.8 2938.2 H38.8"/>
<path d="M29.8 2888.4 H38.8"/>
<path d="M29.8 2838.6 H38.8"/>
<path d="M29.8 2788.8 H38.8"/>
<path d="M29.8 2739 H38.8"/>
</g>
<g font-family="Liberation Sans" font-weight="bold" font-size="15" fill="#3a3a3a" text-anchor="end">
<text transform="translate(28.8 2942.25) scale(1.0 1)">0</text>
<text transform="translate(28.8 2892.45) scale(1.0 1)">1</text>
<text transform="translate(28.8 2842.65) scale(1.0 1)">2</text>
<text transform="translate(28.8 2792.85) scale(1.0 1)">3</text>
<text transform="translate(28.8 2743.05) scale(1.0 1)">4</text>
</g>
<text transform="translate(16.8 2832.1) rotate(-90) scale(1 1.0)" font-family="Liberation Sans" font-weight="bold" font-size="15" fill="#3a3a3a" text-anchor="middle">bits</text>
<g font-family="Liberation Sans" font-weight="bold" font-size="12" fill="#3a3a3a" text-anchor="end">
<text transform="translate(55.14 2941.2) rotate(-90) scale(0.95 1.2)">1</text>
<text transform="translate(76.46 2941.2) rotate(-90) scale(0.95 1.2)">2</text>
<text transform="translate(97.78 2941.2) rotate(-90) scale(0.95 1.2)">3</text>
<text transform="translate(119.1 2941.2) rotate(-90) scale(0.95 1.2)">4</text>
<text transform="translate(140.42 2941.2) rotate(-90) scale(0.95 1.2)">5</text>
<text transform="translate(161.74 2941.2) rotate(-90) scale(0.95 1.2)">6</text>
<text transform="translate(183.06 2941.2) rotate(-90) scale(0.95 1.2)">7</text>
<text transform="translate(204.38 2941.2) rotate(-90) scale(0.95 1.2)">8</text>
<text transform="translate(225.7 2941.2) rotate(-90) scale(0.95 1.2)">9</text>
<text transform="translate(247.02 2941.2) rotate(-90) scale(0.95 1.2)">10</text>
<text transform="translate(268.34 2941.2) rotate(-90) scale(0.95 1.2)">11</text>
<text transform="translate(289.66 2941.2) rotate(-90) scale(0.95 1.2)">12</text>
<text transform="translate(310.98 2941.2) rotate(-90) scale(0.95 1.2)">13</text>
<text transform="translate(332.3 2941.2) rotate(-90) scale(0.95 1.2)">14</text>
<text transform="translate(353.62 2941.2) rotate(-90) scale(0.95 1.2)">15</text>
<text transform="translate(374.94 2941.2) rotate(-90) scale(0.95 1.2)">16</text>
<text transform="translate(396.26 2941.2) rotate(-90) scale(0.95 1.2)">17</text>
<text transform="translate(417.58 2941.2) rotate(-90) scale(0.95 1.2)">18</text>
<text transform="translate(438.9 2941.2) rotate(-90) scale(0.95 1.2)">19</text>
<text transform="translate(460.22 2941.2) rotate(-90) scale(0.95 1.2)">20</text>
<text transform="translate(481.54 2941.2) rotate(-90) scale(0.95 1.2)">21</text>
<text transform="translate(502.86 2941.2) rotate(-90) scale(0.95 1.2)">22</text>
<text transform="translate(524.18 2941.2) rotate(-90) scale(0.95 1.2)">23</text>
<text transform="translate(545.5 2941.2) rotate(-90) scale(0.95 1.2)">24</text>
<text transform="translate(566.82 2941.2) rotate(-90) scale(0.95 1.2)">25</text>
<text transform="translate(588.14 2941.2) rotate(-90) scale(0.95 1.2)">26</text>
<text transform="translate(609.46 2941.2) rotate(-90) scale(0.95 1.2)">27</text>
<text transform="translate(630.78 2941.2) rotate(-90) scale(0.95 1.2)">28</text>
<text transform="translate(652.1 2941.2) rotate(-90) scale(0.95 1.2)">29</text>
<text transform="translate(673.42 2941.2) rotate(-90) scale(0.95 1.2)">30</text>
<text transform="translate(694.74 2941.2) rotate(-90) scale(0.95 1.2)">31</text>
<text transform="translate(716.06 2941.2) rotate(-90) scale(0.95 1.2)">32</text>
<text transform="translate(737.38 2941.2) rotate(-90) scale(0.95 1.2)">33</text>
<text transform="translate(758.7 2941.2) rotate(-90) scale(0.95 1.2)">34</text>
<text transform="translate(780.02 2941.2) rotate(-90) scale(0.95 1.2)">35</text>
<text transform="translate(801.34 2941.2) rotate(-90) scale(0.95 1.2)">36</text>
<text transform="translate(822.66 2941.2) rotate(-90) scale(0.95 1.2)">37</text>
<text transform="translate(843.98 2941.2) rotate(-90) scale(0.95 1.2)">38</text>
<text transform="translate(865.3 2941.2) rotate(-90) scale(0.95 1.2)">39</text>
<text transform="translate(886.62 2941.2) rotate(-90) scale(0.95 1.2)">40</text>
<text transform="translate(907.94 2941.2) rotate(-90) scale(0.95 1.2)">41</text>
<text transform="translate(929.26 2941.2) rotate(-90) scale(0.95 1.2)">42</text>
<text transform="translate(950.58 2941.2) rotate(-90) scale(0.95 1.2)">43</text>
<text transform="translate(971.9 2941.2) rotate(-90) scale(0.95 1.2)">44</text>
<text transform="translate(993.22 2941.2) rotate(-90) scale(0.95 1.2)">45</text>
<text transform="translate(1014.54 2941.2) rotate(-90) scale(0.95 1.2)">46</text>
<text transform="translate(1035.86 2941.2) rotate(-90) scale(0.95 1.2)">47</text>
<text transform="translate(1057.18 2941.2) rotate(-90) scale(0.95 1.2)">48</text>
<text transform="translate(1078.5 2941.2) rotate(-90) scale(0.95 1.2)">49</text>
<text transform="translate(1099.82 2941.2) rotate(-90) scale(0.95 1.2)">50</text>
</g>
<text x="995" y="2969.6" font-family="Liberation Sans" font-size="8" fill="#666" textLength="124" lengthAdjust="spacingAndGlyphs">MEME (no SSC) 16.02.2022 03:35</text>
<g font-family="Liberation Sans" font-weight="bold" font-size="100">
<text transform="matrix(0.37 0 0 2.36 39.93 3080.41)" x="-6.69" y="68.8" fill="#FF00FF">E</text>
<text transform="matrix(0.32 0 0 0.37 39.93 3242.97)" x="-6.69" y="68.8" fill="#CC0000">K</text>
<text transform="matrix(0.35 0 0 1.17 61.28 3135.82)" x="-6.69" y="68.8" fill="#008000">N</text>
<text transform="matrix(0.35 0 0 0.29 61.28 3216.46)" x="-1.12" y="68.8" fill="#008000">T</text>
<text transform="matrix(0.31 0 0 0.18 61.28 3236.72)" x="-2.49" y="68.8" fill="#0000CC">A</text>
<text transform="matrix(0.34 0 0 0.12 61.28 3249.23)" x="-2.88" y="69.82" fill="#008000">S</text>
<text transform="matrix(0.29 0 0 0.15 69.44 3258.07)" x="-6.69" y="68.8" fill="#0000CC">I</text>
<text transform="matrix(0.4 0 0 3.13 82.63 3052.6)" x="-6.69" y="68.8" fill="#0000CC">F</text>
<text transform="matrix(0.33 0 0 3.13 103.98 3052.6)" x="-6.69" y="68.8" fill="#FF00FF">D</text>
<text transform="matrix(0.4 0 0 3.13 125.33 3052.6)" x="-6.69" y="68.8" fill="#0000CC">F</text>
<text transform="matrix(0.32 0 0 3.13 146.68 3052.6)" x="-6.69" y="68.8" fill="#CC0000">R</text>
<text transform="matrix(0.36 0 0 3.13 168.03 3052.6)" x="-6.69" y="68.8" fill="#FFFF00">P</text>
<text transform="matrix(0.3 0 0 3.05 189.38 3052.6)" x="-4.1" y="69.82" fill="#FFB300">G</text>
<text transform="matrix(0.29 0 0 3.13 210.73 3052.6)" x="-6.69" y="68.8" fill="#0000CC">M</text>
<text transform="matrix(0.29 0 0 3.13 240.24 3052.6)" x="-6.69" y="68.8" fill="#0000CC">I</text>
<text transform="matrix(0.35 0 0 1.07 253.43 3123.1)" x="-1.12" y="68.8" fill="#008000">T</text>
<text transform="matrix(0.34 0 0 0.71 253.43 3196.41)" x="-2.88" y="69.82" fill="#008000">S</text>
<text transform="matrix(0.31 0 0 0.31 253.43 3246.86)" x="-2.49" y="68.8" fill="#0000CC">A</text>
<text transform="matrix(0.29 0 0 2.4 282.94 3079.12)" x="-6.69" y="68.8" fill="#0000CC">I</text>
<text transform="matrix(0.35 0 0 0.35 274.78 3244.27)" x="-6.69" y="68.8" fill="#008000">N</text>
<text transform="matrix(0.35 0 0 2.71 296.13 3068.99)" x="-6.69" y="68.8" fill="#008000">N</text>
<text transform="matrix(0.33 0 0 0.18 296.13 3255.7)" x="-6.69" y="68.8" fill="#FF00FF">D</text>
<text transform="matrix(0.4 0 0 3.13 317.48 3052.6)" x="-6.69" y="68.8" fill="#0000CC">L</text>
<text transform="matrix(0.33 0 0 3.13 338.83 3052.6)" x="-6.69" y="68.8" fill="#FF00FF">D</text>
<text transform="matrix(0.4 0 0 3.13 360.18 3052.6)" x="-6.69" y="68.8" fill="#0000CC">L</text>
<text transform="matrix(0.32 0 0 3.13 381.53 3052.6)" x="-6.69" y="68.8" fill="#CC0000">K</text>
<text transform="matrix(0.32 0 0 3.13 402.88 3052.6)" x="-6.69" y="68.8" fill="#CC0000">R</text>
<text transform="matrix(0.3 0 0 3.05 424.23 3052.6)" x="-4.1" y="69.82" fill="#FFB300">G</text>
<text transform="matrix(0.3 0 0 3.05 445.58 3052.6)" x="-4.1" y="69.82" fill="#FFB300">G</text>
<text transform="matrix(0.35 0 0 1.41 466.93 3111.89)" x="-6.69" y="68.8" fill="#008000">N</text>
<text transform="matrix(0.32 0 0 0.73 466.93 3208.91)" x="-6.69" y="68.8" fill="#CC0000">K</text>
<text transform="matrix(0.35 0 0 0.13 466.93 3259.36)" x="-6.69" y="68.8" fill="#FFCCCC">H</text>
<text transform="matrix(0.4 0 0 0.6 488.28 3158.46)" x="-6.69" y="68.8" fill="#0000CC">F</text>
<text transform="matrix(0.3 0 0 0.37 488.28 3200.07)" x="-4.1" y="69.82" fill="#FFB300">G</text>
<text transform="matrix(0.34 0 0 0.29 488.28 3226.59)" x="-2.88" y="69.82" fill="#008000">S</text>
<text transform="matrix(0.35 0 0 0.22 488.28 3246.86)" x="-6.69" y="68.8" fill="#008000">N</text>
<text transform="matrix(0.33 0 0 0.09 488.28 3261.95)" x="-6.69" y="68.8" fill="#FF00FF">D</text>
<text transform="matrix(0.32 0 0 3.13 509.63 3052.6)" x="-6.69" y="68.8" fill="#CC0000">R</text>
<text transform="matrix(0.4 0 0 1.52 530.98 3099.17)" x="-6.69" y="68.8" fill="#0000CC">F</text>
<text transform="matrix(0.32 0 0 0.93 530.98 3203.95)" x="-1.71" y="68.8" fill="#33E6CC">Y</text>
<text transform="matrix(0.4 0 0 1.41 552.33 3099.17)" x="-6.69" y="68.8" fill="#0000CC">L</text>
<clipPath id="cq9"><rect x="551.33" y="3195.41" width="22.5" height="72.79"/></clipPath>
<g clip-path="url(#cq9)"><text transform="matrix(0.29 0 0 0.97 552.33 3196.41)" x="-4.1" y="69.82" fill="#008000">Q</text></g>
<text transform="matrix(0.32 0 0 3.13 573.68 3052.6)" x="-6.69" y="68.8" fill="#CC0000">K</text>
<text transform="matrix(0.35 0 0 3.13 595.03 3052.6)" x="-1.12" y="68.8" fill="#008000">T</text>
<text transform="matrix(0.31 0 0 3.13 616.38 3052.6)" x="-2.49" y="68.8" fill="#0000CC">A</text>
<text transform="matrix(0.31 0 0 3.13 637.73 3052.6)" x="-2.49" y="68.8" fill="#0000CC">A</text>
<text transform="matrix(0.32 0 0 3.13 659.08 3052.6)" x="-1.71" y="68.8" fill="#33E6CC">Y</text>
<text transform="matrix(0.3 0 0 3.05 680.43 3052.6)" x="-4.1" y="69.82" fill="#FFB300">G</text>
<text transform="matrix(0.35 0 0 3.13 701.78 3052.6)" x="-6.69" y="68.8" fill="#FFCCCC">H</text>
<text transform="matrix(0.4 0 0 3.13 723.13 3052.6)" x="-6.69" y="68.8" fill="#0000CC">F</text>
<text transform="matrix(0.3 0 0 3.05 744.48 3052.6)" x="-4.1" y="69.82" fill="#FFB300">G</text>
<text transform="matrix(0.32 0 0 3.13 765.83 3052.6)" x="-6.69" y="68.8" fill="#CC0000">R</text>
<text transform="matrix(0.33 0 0 3.13 787.18 3052.6)" x="-6.69" y="68.8" fill="#FF00FF">D</text>
<text transform="matrix(0.33 0 0 3.13 808.53 3052.6)" x="-6.69" y="68.8" fill="#FF00FF">D</text>
<text transform="matrix(0.36 0 0 1.69 829.88 3111.89)" x="-6.69" y="68.8" fill="#FFFF00">P</text>
<text transform="matrix(0.32 0 0 0.29 829.88 3227.88)" x="-6.69" y="68.8" fill="#CC0000">K</text>
<text transform="matrix(0.35 0 0 0.11 829.88 3247.93)" x="-1.12" y="68.8" fill="#008000">T</text>
<text transform="matrix(0.34 0 0 0.18 829.88 3255.7)" x="-2.88" y="69.82" fill="#008000">S</text>
<text transform="matrix(0.33 0 0 3.13 851.23 3052.6)" x="-6.69" y="68.8" fill="#FF00FF">D</text>
<text transform="matrix(0.4 0 0 3.13 872.58 3052.6)" x="-6.69" y="68.8" fill="#0000CC">F</text>
<text transform="matrix(0.35 0 0 3.13 893.93 3052.6)" x="-1.12" y="68.8" fill="#008000">T</text>
<text transform="matrix(0.22 0 0 3.13 915.28 3052.6)" x="-0.1" y="68.8" fill="#0000CC">W</text>
<text transform="matrix(0.37 0 0 3.13 936.63 3052.6)" x="-6.69" y="68.8" fill="#FF00FF">E</text>
<text transform="matrix(0.31 0 0 0.97 957.98 3129.57)" x="-0.68" y="68.8" fill="#0000CC">V</text>
<text transform="matrix(0.29 0 0 0.79 966.14 3196.41)" x="-6.69" y="68.8" fill="#0000CC">I</text>
<text transform="matrix(0.3 0 0 0.11 957.98 3250.52)" x="-4.1" y="69.82" fill="#FFB300">G</text>
<text transform="matrix(0.31 0 0 0.15 957.98 3258.07)" x="-2.49" y="68.8" fill="#0000CC">A</text>
<text transform="matrix(0.31 0 0 3.13 979.33 3052.6)" x="-0.68" y="68.8" fill="#0000CC">V</text>
<text transform="matrix(0.32 0 0 3.13 1000.68 3052.6)" x="-6.69" y="68.8" fill="#CC0000">K</text>
<text transform="matrix(0.36 0 0 3.13 1022.03 3052.6)" x="-6.69" y="68.8" fill="#FFFF00">P</text>
<text transform="matrix(0.4 0 0 3.13 1043.38 3052.6)" x="-6.69" y="68.8" fill="#0000CC">L</text>
<text transform="matrix(0.32 0 0 3.13 1064.73 3052.6)" x="-6.69" y="68.8" fill="#CC0000">K</text>
<text transform="matrix(0.22 0 0 1.5 1086.08 3099.17)" x="-0.1" y="68.8" fill="#0000CC">W</text>
<text transform="matrix(0.36 0 0 0.95 1086.08 3202.66)" x="-6.69" y="68.8" fill="#FFFF00">P</text>
</g>
<g stroke="#7a7a7a" stroke-width="2.4" fill="none">
<path d="M40 3050.6 V3269.2"/>
<path d="M31 3268.2 H40"/>
<path d="M31 3218.2 H40"/>
<path d="M31 3168.2 H40"/>
<path d="M31 3118.2 H40"/>
<path d="M31 3068.2 H40"/>
</g>
<g font-family="Liberation Sans" font-weight="bold" font-size="15" fill="#3a3a3a" text-anchor="end">
<text transform="translate(30 3272.25) scale(1.0 1)">0</text>
<text transform="translate(30 3222.25) scale(1.0 1)">1</text>
<text transform="translate(30 3172.25) scale(1.0 1)">2</text>
<text transform="translate(30 3122.25) scale(1.0 1)">3</text>
<text transform="translate(30 3072.25) scale(1.0 1)">4</text>
</g>
<text transform="translate(18 3161.7) rotate(-90) scale(1 1.0)" font-family="Liberation Sans" font-weight="bold" font-size="15" fill="#3a3a3a" text-anchor="middle">bits</text>
<g font-family="Liberation Sans" font-weight="bold" font-size="12" fill="#3a3a3a" text-anchor="end">
<text transform="translate(55.36 3271.2) rotate(-90) scale(0.95 1.2)">1</text>
<text transform="translate(76.71 3271.2) rotate(-90) scale(0.95 1.2)">2</text>
<text transform="translate(98.06 3271.2) rotate(-90) scale(0.95 1.2)">3</text>
<text transform="translate(119.41 3271.2) rotate(-90) scale(0.95 1.2)">4</text>
<text transform="translate(140.76 3271.2) rotate(-90) scale(0.95 1.2)">5</text>
<text transform="translate(162.11 3271.2) rotate(-90) scale(0.95 1.2)">6</text>
<text transform="translate(183.46 3271.2) rotate(-90) scale(0.95 1.2)">7</text>
<text transform="translate(204.81 3271.2) rotate(-90) scale(0.95 1.2)">8</text>
<text transform="translate(226.16 3271.2) rotate(-90) scale(0.95 1.2)">9</text>
<text transform="translate(247.51 3271.2) rotate(-90) scale(0.95 1.2)">10</text>
<text transform="translate(268.86 3271.2) rotate(-90) scale(0.95 1.2)">11</text>
<text transform="translate(290.21 3271.2) rotate(-90) scale(0.95 1.2)">12</text>
<text transform="translate(311.56 3271.2) rotate(-90) scale(0.95 1.2)">13</text>
<text transform="translate(332.91 3271.2) rotate(-90) scale(0.95 1.2)">14</text>
<text transform="translate(354.26 3271.2) rotate(-90) scale(0.95 1.2)">15</text>
<text transform="translate(375.61 3271.2) rotate(-90) scale(0.95 1.2)">16</text>
<text transform="translate(396.96 3271.2) rotate(-90) scale(0.95 1.2)">17</text>
<text transform="translate(418.31 3271.2) rotate(-90) scale(0.95 1.2)">18</text>
<text transform="translate(439.66 3271.2) rotate(-90) scale(0.95 1.2)">19</text>
<text transform="translate(461.01 3271.2) rotate(-90) scale(0.95 1.2)">20</text>
<text transform="translate(482.36 3271.2) rotate(-90) scale(0.95 1.2)">21</text>
<text transform="translate(503.71 3271.2) rotate(-90) scale(0.95 1.2)">22</text>
<text transform="translate(525.06 3271.2) rotate(-90) scale(0.95 1.2)">23</text>
<text transform="translate(546.41 3271.2) rotate(-90) scale(0.95 1.2)">24</text>
<text transform="translate(567.76 3271.2) rotate(-90) scale(0.95 1.2)">25</text>
<text transform="translate(589.11 3271.2) rotate(-90) scale(0.95 1.2)">26</text>
<text transform="translate(610.46 3271.2) rotate(-90) scale(0.95 1.2)">27</text>
<text transform="translate(631.81 3271.2) rotate(-90) scale(0.95 1.2)">28</text>
<text transform="translate(653.16 3271.2) rotate(-90) scale(0.95 1.2)">29</text>
<text transform="translate(674.51 3271.2) rotate(-90) scale(0.95 1.2)">30</text>
<text transform="translate(695.86 3271.2) rotate(-90) scale(0.95 1.2)">31</text>
<text transform="translate(717.21 3271.2) rotate(-90) scale(0.95 1.2)">32</text>
<text transform="translate(738.56 3271.2) rotate(-90) scale(0.95 1.2)">33</text>
<text transform="translate(759.91 3271.2) rotate(-90) scale(0.95 1.2)">34</text>
<text transform="translate(781.26 3271.2) rotate(-90) scale(0.95 1.2)">35</text>
<text transform="translate(802.61 3271.2) rotate(-90) scale(0.95 1.2)">36</text>
<text transform="translate(823.96 3271.2) rotate(-90) scale(0.95 1.2)">37</text>
<text transform="translate(845.31 3271.2) rotate(-90) scale(0.95 1.2)">38</text>
<text transform="translate(866.66 3271.2) rotate(-90) scale(0.95 1.2)">39</text>
<text transform="translate(888.01 3271.2) rotate(-90) scale(0.95 1.2)">40</text>
<text transform="translate(909.36 3271.2) rotate(-90) scale(0.95 1.2)">41</text>
<text transform="translate(930.71 3271.2) rotate(-90) scale(0.95 1.2)">42</text>
<text transform="translate(952.06 3271.2) rotate(-90) scale(0.95 1.2)">43</text>
<text transform="translate(973.41 3271.2) rotate(-90) scale(0.95 1.2)">44</text>
<text transform="translate(994.76 3271.2) rotate(-90) scale(0.95 1.2)">45</text>
<text transform="translate(1016.11 3271.2) rotate(-90) scale(0.95 1.2)">46</text>
<text transform="translate(1037.46 3271.2) rotate(-90) scale(0.95 1.2)">47</text>
<text transform="translate(1058.81 3271.2) rotate(-90) scale(0.95 1.2)">48</text>
<text transform="translate(1080.16 3271.2) rotate(-90) scale(0.95 1.2)">49</text>
<text transform="translate(1101.51 3271.2) rotate(-90) scale(0.95 1.2)">50</text>
</g>
<text x="995" y="3299.6" font-family="Liberation Sans" font-size="8" fill="#666" textLength="124" lengthAdjust="spacingAndGlyphs">MEME (no SSC) 16.02.2022 03:35</text>
<g font-family="Liberation Sans" font-weight="bold" font-size="100">
<text transform="matrix(0.35 0 0 2.37 40.43 3401.46)" x="-6.69" y="68.8" fill="#008000">N</text>
<text transform="matrix(0.32 0 0 0.35 40.43 3564.19)" x="-6.69" y="68.8" fill="#CC0000">K</text>
<text transform="matrix(0.31 0 0 3.03 61.74 3373.8)" x="-4.1" y="69.82" fill="#0000CC">C</text>
<text transform="matrix(0.32 0 0 2.37 83.05 3401.46)" x="-6.69" y="68.8" fill="#CC0000">K</text>
<text transform="matrix(0.35 0 0 0.35 83.05 3564.19)" x="-6.69" y="68.8" fill="#008000">N</text>
<text transform="matrix(0.31 0 0 3.12 104.36 3373.8)" x="-0.68" y="68.8" fill="#0000CC">V</text>
<text transform="matrix(0.4 0 0 3.12 125.67 3373.8)" x="-6.69" y="68.8" fill="#0000CC">L</text>
<text transform="matrix(0.31 0 0 3.12 146.98 3373.8)" x="-0.68" y="68.8" fill="#0000CC">V</text>
<text transform="matrix(0.35 0 0 3.12 168.29 3373.8)" x="-6.69" y="68.8" fill="#008000">N</text>
<text transform="matrix(0.29 0 0 3.12 197.75 3373.8)" x="-6.69" y="68.8" fill="#0000CC">I</text>
<text transform="matrix(0.36 0 0 3.12 210.91 3373.8)" x="-6.69" y="68.8" fill="#FF00FF">E</text>
<clipPath id="cq10"><rect x="231.22" y="3372.8" width="22.46" height="215.4"/></clipPath>
<g clip-path="url(#cq10)"><text transform="matrix(0.29 0 0 2.9 232.22 3373.8)" x="-4.1" y="69.82" fill="#008000">Q</text></g>
<clipPath id="cq11"><rect x="252.53" y="3372.8" width="22.46" height="215.4"/></clipPath>
<g clip-path="url(#cq11)"><text transform="matrix(0.29 0 0 2.9 253.53 3373.8)" x="-4.1" y="69.82" fill="#008000">Q</text></g>
<text transform="matrix(0.34 0 0 3.03 274.84 3373.8)" x="-2.88" y="69.82" fill="#008000">S</text>
<text transform="matrix(0.36 0 0 3.12 296.15 3373.8)" x="-6.69" y="68.8" fill="#FFFF00">P</text>
<text transform="matrix(0.33 0 0 3.12 317.46 3373.8)" x="-6.69" y="68.8" fill="#FF00FF">D</text>
<text transform="matrix(0.29 0 0 3.12 346.92 3373.8)" x="-6.69" y="68.8" fill="#0000CC">I</text>
<text transform="matrix(0.3 0 0 3.12 360.08 3373.8)" x="-2.49" y="68.8" fill="#0000CC">A</text>
<clipPath id="cq12"><rect x="380.39" y="3372.8" width="22.46" height="215.4"/></clipPath>
<g clip-path="url(#cq12)"><text transform="matrix(0.29 0 0 2.9 381.39 3373.8)" x="-4.1" y="69.82" fill="#008000">Q</text></g>
<text transform="matrix(0.3 0 0 3.03 402.7 3373.8)" x="-4.1" y="69.82" fill="#FFB300">G</text>
<text transform="matrix(0.31 0 0 3.12 424.01 3373.8)" x="-0.68" y="68.8" fill="#0000CC">V</text>
<text transform="matrix(0.35 0 0 3.12 445.32 3373.8)" x="-6.69" y="68.8" fill="#FFCCCC">H</text>
<text transform="matrix(0.3 0 0 3.03 466.63 3373.8)" x="-4.1" y="69.82" fill="#FFB300">G</text>
<text transform="matrix(0.35 0 0 3.12 487.94 3373.8)" x="-6.69" y="68.8" fill="#FFCCCC">H</text>
<text transform="matrix(0.4 0 0 1.28 509.25 3422.9)" x="-6.69" y="68.8" fill="#0000CC">L</text>
<text transform="matrix(0.4 0 0 1.12 509.25 3511.23)" x="-6.69" y="68.8" fill="#0000CC">F</text>
<text transform="matrix(0.35 0 0 1.8 530.56 3415.39)" x="-1.12" y="68.8" fill="#008000">T</text>
<text transform="matrix(0.34 0 0 0.69 530.56 3539.1)" x="-2.88" y="69.82" fill="#008000">S</text>
<text transform="matrix(0.32 0 0 3.12 551.87 3373.8)" x="-6.69" y="68.8" fill="#CC0000">K</text>
<text transform="matrix(0.32 0 0 1.41 573.18 3421.83)" x="-6.69" y="68.8" fill="#CC0000">R</text>
<text transform="matrix(0.32 0 0 1.01 573.18 3518.73)" x="-6.69" y="68.8" fill="#CC0000">K</text>
<text transform="matrix(0.36 0 0 3.12 594.49 3373.8)" x="-6.69" y="68.8" fill="#FFFF00">P</text>
<text transform="matrix(0.36 0 0 3.12 615.8 3373.8)" x="-6.69" y="68.8" fill="#FF00FF">E</text>
<text transform="matrix(0.36 0 0 2.75 637.11 3390.09)" x="-6.69" y="68.8" fill="#FF00FF">E</text>
<text transform="matrix(0.33 0 0 0.13 637.11 3579.41)" x="-6.69" y="68.8" fill="#FF00FF">D</text>
<text transform="matrix(0.29 0 0 3.12 666.57 3373.8)" x="-6.69" y="68.8" fill="#0000CC">I</text>
<text transform="matrix(0.3 0 0 3.03 679.73 3373.8)" x="-4.1" y="69.82" fill="#FFB300">G</text>
<text transform="matrix(0.3 0 0 3.12 701.04 3373.8)" x="-2.49" y="68.8" fill="#0000CC">A</text>
<text transform="matrix(0.3 0 0 3.03 722.35 3373.8)" x="-4.1" y="69.82" fill="#FFB300">G</text>
<text transform="matrix(0.33 0 0 3.12 743.66 3373.8)" x="-6.69" y="68.8" fill="#FF00FF">D</text>
<clipPath id="cq13"><rect x="763.97" y="3372.8" width="22.46" height="215.4"/></clipPath>
<g clip-path="url(#cq13)"><text transform="matrix(0.29 0 0 2.9 764.97 3373.8)" x="-4.1" y="69.82" fill="#008000">Q</text></g>
<text transform="matrix(0.3 0 0 3.03 786.28 3373.8)" x="-4.1" y="69.82" fill="#FFB300">G</text>
<text transform="matrix(0.35 0 0 3.12 807.59 3373.8)" x="-6.69" y="68.8" fill="#FFCCCC">H</text>
<text transform="matrix(0.29 0 0 3.12 828.9 3373.8)" x="-6.69" y="68.8" fill="#0000CC">M</text>
<text transform="matrix(0.4 0 0 3.12 850.21 3373.8)" x="-6.69" y="68.8" fill="#0000CC">F</text>
<text transform="matrix(0.3 0 0 3.03 871.52 3373.8)" x="-4.1" y="69.82" fill="#FFB300">G</text>
<text transform="matrix(0.32 0 0 3.12 892.83 3373.8)" x="-1.71" y="68.8" fill="#33E6CC">Y</text>
<text transform="matrix(0.3 0 0 3.12 914.14 3373.8)" x="-2.49" y="68.8" fill="#0000CC">A</text>
<text transform="matrix(0.35 0 0 3.12 935.45 3373.8)" x="-1.12" y="68.8" fill="#008000">T</text>
<text transform="matrix(0.33 0 0 2.7 956.76 3390.09)" x="-6.69" y="68.8" fill="#FF00FF">D</text>
<text transform="matrix(0.35 0 0 0.18 956.76 3575.55)" x="-6.69" y="68.8" fill="#008000">N</text>
<text transform="matrix(0.36 0 0 3.12 978.07 3373.8)" x="-6.69" y="68.8" fill="#FF00FF">E</text>
<text transform="matrix(0.35 0 0 3.12 999.38 3373.8)" x="-1.12" y="68.8" fill="#008000">T</text>
<text transform="matrix(0.36 0 0 3.12 1020.69 3373.8)" x="-6.69" y="68.8" fill="#FFFF00">P</text>
<text transform="matrix(0.36 0 0 3.12 1042 3373.8)" x="-6.69" y="68.8" fill="#FF00FF">E</text>
<text transform="matrix(0.4 0 0 1.62 1063.31 3419.25)" x="-6.69" y="68.8" fill="#0000CC">L</text>
<text transform="matrix(0.4 0 0 0.84 1063.31 3530.53)" x="-6.69" y="68.8" fill="#0000CC">F</text>
<text transform="matrix(0.29 0 0 3.12 1084.62 3373.8)" x="-6.69" y="68.8" fill="#0000CC">M</text>
</g>
<g stroke="#7a7a7a" stroke-width="2.4" fill="none">
<path d="M40 3371.8 V3589.2"/>
<path d="M31 3588.2 H40"/>
<path d="M31 3538.2 H40"/>
<path d="M31 3488.2 H40"/>
<path d="M31 3438.2 H40"/>
<path d="M31 3388.2 H40"/>
</g>
<g font-family="Liberation Sans" font-weight="bold" font-size="15" fill="#3a3a3a" text-anchor="end">
<text transform="translate(30 3592.25) scale(1.0 1)">0</text>
<text transform="translate(30 3542.25) scale(1.0 1)">1</text>
<text transform="translate(30 3492.25) scale(1.0 1)">2</text>
<text transform="translate(30 3442.25) scale(1.0 1)">3</text>
<text transform="translate(30 3392.25) scale(1.0 1)">4</text>
</g>
<text transform="translate(18 3481.7) rotate(-90) scale(1 1.0)" font-family="Liberation Sans" font-weight="bold" font-size="15" fill="#3a3a3a" text-anchor="middle">bits</text>
<g font-family="Liberation Sans" font-weight="bold" font-size="12" fill="#3a3a3a" text-anchor="end">
<text transform="translate(55.84 3591.2) rotate(-90) scale(0.95 1.2)">1</text>
<text transform="translate(77.15 3591.2) rotate(-90) scale(0.95 1.2)">2</text>
<text transform="translate(98.46 3591.2) rotate(-90) scale(0.95 1.2)">3</text>
<text transform="translate(119.77 3591.2) rotate(-90) scale(0.95 1.2)">4</text>
<text transform="translate(141.08 3591.2) rotate(-90) scale(0.95 1.2)">5</text>
<text transform="translate(162.39 3591.2) rotate(-90) scale(0.95 1.2)">6</text>
<text transform="translate(183.7 3591.2) rotate(-90) scale(0.95 1.2)">7</text>
<text transform="translate(205.01 3591.2) rotate(-90) scale(0.95 1.2)">8</text>
<text transform="translate(226.32 3591.2) rotate(-90) scale(0.95 1.2)">9</text>
<text transform="translate(247.63 3591.2) rotate(-90) scale(0.95 1.2)">10</text>
<text transform="translate(268.94 3591.2) rotate(-90) scale(0.95 1.2)">11</text>
<text transform="translate(290.25 3591.2) rotate(-90) scale(0.95 1.2)">12</text>
<text transform="translate(311.56 3591.2) rotate(-90) scale(0.95 1.2)">13</text>
<text transform="translate(332.87 3591.2) rotate(-90) scale(0.95 1.2)">14</text>
<text transform="translate(354.18 3591.2) rotate(-90) scale(0.95 1.2)">15</text>
<text transform="translate(375.49 3591.2) rotate(-90) scale(0.95 1.2)">16</text>
<text transform="translate(396.8 3591.2) rotate(-90) scale(0.95 1.2)">17</text>
<text transform="translate(418.11 3591.2) rotate(-90) scale(0.95 1.2)">18</text>
<text transform="translate(439.42 3591.2) rotate(-90) scale(0.95 1.2)">19</text>
<text transform="translate(460.73 3591.2) rotate(-90) scale(0.95 1.2)">20</text>
<text transform="translate(482.04 3591.2) rotate(-90) scale(0.95 1.2)">21</text>
<text transform="translate(503.35 3591.2) rotate(-90) scale(0.95 1.2)">22</text>
<text transform="translate(524.66 3591.2) rotate(-90) scale(0.95 1.2)">23</text>
<text transform="translate(545.97 3591.2) rotate(-90) scale(0.95 1.2)">24</text>
<text transform="translate(567.28 3591.2) rotate(-90) scale(0.95 1.2)">25</text>
<text transform="translate(588.59 3591.2) rotate(-90) scale(0.95 1.2)">26</text>
<text transform="translate(609.9 3591.2) rotate(-90) scale(0.95 1.2)">27</text>
<text transform="translate(631.21 3591.2) rotate(-90) scale(0.95 1.2)">28</text>
<text transform="translate(652.52 3591.2) rotate(-90) scale(0.95 1.2)">29</text>
<text transform="translate(673.83 3591.2) rotate(-90) scale(0.95 1.2)">30</text>
<text transform="translate(695.14 3591.2) rotate(-90) scale(0.95 1.2)">31</text>
<text transform="translate(716.45 3591.2) rotate(-90) scale(0.95 1.2)">32</text>
<text transform="translate(737.76 3591.2) rotate(-90) scale(0.95 1.2)">33</text>
<text transform="translate(759.07 3591.2) rotate(-90) scale(0.95 1.2)">34</text>
<text transform="translate(780.38 3591.2) rotate(-90) scale(0.95 1.2)">35</text>
<text transform="translate(801.69 3591.2) rotate(-90) scale(0.95 1.2)">36</text>
<text transform="translate(823 3591.2) rotate(-90) scale(0.95 1.2)">37</text>
<text transform="translate(844.31 3591.2) rotate(-90) scale(0.95 1.2)">38</text>
<text transform="translate(865.62 3591.2) rotate(-90) scale(0.95 1.2)">39</text>
<text transform="translate(886.93 3591.2) rotate(-90) scale(0.95 1.2)">40</text>
<text transform="translate(908.24 3591.2) rotate(-90) scale(0.95 1.2)">41</text>
<text transform="translate(929.55 3591.2) rotate(-90) scale(0.95 1.2)">42</text>
<text transform="translate(950.86 3591.2) rotate(-90) scale(0.95 1.2)">43</text>
<text transform="translate(972.17 3591.2) rotate(-90) scale(0.95 1.2)">44</text>
<text transform="translate(993.48 3591.2) rotate(-90) scale(0.95 1.2)">45</text>
<text transform="translate(1014.79 3591.2) rotate(-90) scale(0.95 1.2)">46</text>
<text transform="translate(1036.1 3591.2) rotate(-90) scale(0.95 1.2)">47</text>
<text transform="translate(1057.41 3591.2) rotate(-90) scale(0.95 1.2)">48</text>
<text transform="translate(1078.72 3591.2) rotate(-90) scale(0.95 1.2)">49</text>
<text transform="translate(1100.03 3591.2) rotate(-90) scale(0.95 1.2)">50</text>
</g>
<text x="995" y="3619.6" font-family="Liberation Sans" font-size="8" fill="#666" textLength="124" lengthAdjust="spacingAndGlyphs">MEME (no SSC) 16.02.2022 03:35</text>
<g font-family="Liberation Sans" font-weight="bold" font-size="100">
<text transform="matrix(0.3 0 0 3.11 1197.22 2092.6)" x="-2.49" y="68.8" fill="#0000CC">A</text>
<text transform="matrix(0.33 0 0 3.11 1218.47 2092.6)" x="-6.69" y="68.8" fill="#FF00FF">D</text>
<text transform="matrix(0.4 0 0 3.11 1239.72 2092.6)" x="-6.69" y="68.8" fill="#0000CC">L</text>
<text transform="matrix(0.32 0 0 2.66 1260.97 2108.89)" x="-6.69" y="68.8" fill="#CC0000">K</text>
<text transform="matrix(0.32 0 0 0.22 1260.97 2291.68)" x="-6.69" y="68.8" fill="#CC0000">R</text>
<text transform="matrix(0.36 0 0 3.11 1282.22 2092.6)" x="-6.69" y="68.8" fill="#FF00FF">E</text>
<text transform="matrix(0.35 0 0 3.11 1303.47 2092.6)" x="-6.69" y="68.8" fill="#FFCCCC">H</text>
<text transform="matrix(0.31 0 0 3.11 1324.72 2092.6)" x="-0.68" y="68.8" fill="#0000CC">V</text>
<text transform="matrix(0.29 0 0 3.11 1354.1 2092.6)" x="-6.69" y="68.8" fill="#0000CC">I</text>
<text transform="matrix(0.32 0 0 3.11 1367.22 2092.6)" x="-6.69" y="68.8" fill="#CC0000">K</text>
<text transform="matrix(0.36 0 0 3.11 1388.47 2092.6)" x="-6.69" y="68.8" fill="#FFFF00">P</text>
<text transform="matrix(0.31 0 0 3.11 1409.72 2092.6)" x="-0.68" y="68.8" fill="#0000CC">V</text>
<text transform="matrix(0.29 0 0 3.11 1439.1 2092.6)" x="-6.69" y="68.8" fill="#0000CC">I</text>
<text transform="matrix(0.36 0 0 3.11 1452.22 2092.6)" x="-6.69" y="68.8" fill="#FFFF00">P</text>
<text transform="matrix(0.36 0 0 1.52 1473.47 2139.32)" x="-6.69" y="68.8" fill="#FF00FF">E</text>
<text transform="matrix(0.3 0 0 0.92 1473.47 2243.9)" x="-2.49" y="68.8" fill="#0000CC">A</text>
<text transform="matrix(0.32 0 0 3.11 1494.72 2092.6)" x="-6.69" y="68.8" fill="#CC0000">K</text>
<text transform="matrix(0.32 0 0 2.69 1515.97 2108.89)" x="-1.71" y="68.8" fill="#33E6CC">Y</text>
<text transform="matrix(0.35 0 0 0.18 1515.97 2294.26)" x="-6.69" y="68.8" fill="#FFCCCC">H</text>
<text transform="matrix(0.4 0 0 3.11 1537.22 2092.6)" x="-6.69" y="68.8" fill="#0000CC">L</text>
<text transform="matrix(0.33 0 0 3.11 1558.47 2092.6)" x="-6.69" y="68.8" fill="#FF00FF">D</text>
<text transform="matrix(0.36 0 0 1.07 1579.72 2163.1)" x="-6.69" y="68.8" fill="#FF00FF">E</text>
<text transform="matrix(0.33 0 0 0.8 1579.72 2236.4)" x="-6.69" y="68.8" fill="#FF00FF">D</text>
<text transform="matrix(0.3 0 0 0.21 1579.72 2291.68)" x="-4.1" y="69.82" fill="#FFB300">G</text>
<text transform="matrix(0.32 0 0 3.11 1600.97 2092.6)" x="-6.69" y="68.8" fill="#CC0000">K</text>
<text transform="matrix(0.35 0 0 3.11 1622.22 2092.6)" x="-1.12" y="68.8" fill="#008000">T</text>
<text transform="matrix(0.29 0 0 3.11 1651.6 2092.6)" x="-6.69" y="68.8" fill="#0000CC">I</text>
<text transform="matrix(0.4 0 0 3.11 1664.72 2092.6)" x="-6.69" y="68.8" fill="#0000CC">F</text>
<text transform="matrix(0.35 0 0 3.11 1685.97 2092.6)" x="-6.69" y="68.8" fill="#FFCCCC">H</text>
<text transform="matrix(0.4 0 0 3.11 1707.22 2092.6)" x="-6.69" y="68.8" fill="#0000CC">L</text>
<text transform="matrix(0.35 0 0 3.11 1728.47 2092.6)" x="-6.69" y="68.8" fill="#008000">N</text>
<text transform="matrix(0.36 0 0 3.11 1749.72 2092.6)" x="-6.69" y="68.8" fill="#FFFF00">P</text>
<text transform="matrix(0.34 0 0 3.03 1770.97 2092.6)" x="-2.88" y="69.82" fill="#008000">S</text>
<text transform="matrix(0.3 0 0 3.03 1792.22 2092.6)" x="-4.1" y="69.82" fill="#FFB300">G</text>
<text transform="matrix(0.32 0 0 3.11 1813.47 2092.6)" x="-6.69" y="68.8" fill="#CC0000">R</text>
<text transform="matrix(0.4 0 0 3.11 1834.72 2092.6)" x="-6.69" y="68.8" fill="#0000CC">F</text>
<text transform="matrix(0.31 0 0 3.11 1855.97 2092.6)" x="-0.68" y="68.8" fill="#0000CC">V</text>
<text transform="matrix(0.29 0 0 3.11 1885.35 2092.6)" x="-6.69" y="68.8" fill="#0000CC">I</text>
<text transform="matrix(0.3 0 0 3.03 1898.47 2092.6)" x="-4.1" y="69.82" fill="#FFB300">G</text>
<text transform="matrix(0.3 0 0 3.03 1919.72 2092.6)" x="-4.1" y="69.82" fill="#FFB300">G</text>
<text transform="matrix(0.36 0 0 3.11 1940.97 2092.6)" x="-6.69" y="68.8" fill="#FFFF00">P</text>
<text transform="matrix(0.35 0 0 2.69 1962.22 2108.89)" x="-6.69" y="68.8" fill="#FFCCCC">H</text>
<clipPath id="cq14"><rect x="1961.22" y="2293.26" width="22.4" height="13.64"/></clipPath>
<g clip-path="url(#cq14)"><text transform="matrix(0.29 0 0 0.17 1962.22 2294.26)" x="-4.1" y="69.82" fill="#008000">Q</text></g>
<text transform="matrix(0.3 0 0 3.03 1983.47 2092.6)" x="-4.1" y="69.82" fill="#FFB300">G</text>
<text transform="matrix(0.33 0 0 3.11 2004.72 2092.6)" x="-6.69" y="68.8" fill="#FF00FF">D</text>
<text transform="matrix(0.3 0 0 3.11 2025.97 2092.6)" x="-2.49" y="68.8" fill="#0000CC">A</text>
<text transform="matrix(0.3 0 0 3.03 2047.22 2092.6)" x="-4.1" y="69.82" fill="#FFB300">G</text>
<text transform="matrix(0.4 0 0 3.11 2068.48 2092.6)" x="-6.69" y="68.8" fill="#0000CC">L</text>
<text transform="matrix(0.35 0 0 3.11 2089.73 2092.6)" x="-1.12" y="68.8" fill="#008000">T</text>
<text transform="matrix(0.3 0 0 3.03 2110.98 2092.6)" x="-4.1" y="69.82" fill="#FFB300">G</text>
<text transform="matrix(0.32 0 0 3.11 2132.23 2092.6)" x="-6.69" y="68.8" fill="#CC0000">R</text>
<text transform="matrix(0.32 0 0 3.11 2153.48 2092.6)" x="-6.69" y="68.8" fill="#CC0000">K</text>
<text transform="matrix(0.29 0 0 3.11 2182.85 2092.6)" x="-6.69" y="68.8" fill="#0000CC">I</text>
<text transform="matrix(0.29 0 0 3.11 2204.1 2092.6)" x="-6.69" y="68.8" fill="#0000CC">I</text>
<text transform="matrix(0.29 0 0 3.11 2225.35 2092.6)" x="-6.69" y="68.8" fill="#0000CC">I</text>
<text transform="matrix(0.33 0 0 3.11 2238.48 2092.6)" x="-6.69" y="68.8" fill="#FF00FF">D</text>
</g>
<g stroke="#7a7a7a" stroke-width="2.4" fill="none">
<path d="M1195.6 2090.6 V2307.9"/>
<path d="M1186.6 2306.9 H1195.6"/>
<path d="M1186.6 2256.9 H1195.6"/>
<path d="M1186.6 2206.9 H1195.6"/>
<path d="M1186.6 2156.9 H1195.6"/>
<path d="M1186.6 2106.9 H1195.6"/>
</g>
<g font-family="Liberation Sans" font-weight="bold" font-size="15" fill="#3a3a3a" text-anchor="end">
<text transform="translate(1185.6 2310.95) scale(1.0 1)">0</text>
<text transform="translate(1185.6 2260.95) scale(1.0 1)">1</text>
<text transform="translate(1185.6 2210.95) scale(1.0 1)">2</text>
<text transform="translate(1185.6 2160.95) scale(1.0 1)">3</text>
<text transform="translate(1185.6 2110.95) scale(1.0 1)">4</text>
</g>
<text transform="translate(1173.6 2200.4) rotate(-90) scale(1 1.0)" font-family="Liberation Sans" font-weight="bold" font-size="15" fill="#3a3a3a" text-anchor="middle">bits</text>
<g font-family="Liberation Sans" font-weight="bold" font-size="12" fill="#3a3a3a" text-anchor="end">
<text transform="translate(1212.61 2309.9) rotate(-90) scale(0.95 1.2)">1</text>
<text transform="translate(1233.86 2309.9) rotate(-90) scale(0.95 1.2)">2</text>
<text transform="translate(1255.11 2309.9) rotate(-90) scale(0.95 1.2)">3</text>
<text transform="translate(1276.36 2309.9) rotate(-90) scale(0.95 1.2)">4</text>
<text transform="translate(1297.61 2309.9) rotate(-90) scale(0.95 1.2)">5</text>
<text transform="translate(1318.86 2309.9) rotate(-90) scale(0.95 1.2)">6</text>
<text transform="translate(1340.11 2309.9) rotate(-90) scale(0.95 1.2)">7</text>
<text transform="translate(1361.36 2309.9) rotate(-90) scale(0.95 1.2)">8</text>
<text transform="translate(1382.61 2309.9) rotate(-90) scale(0.95 1.2)">9</text>
<text transform="translate(1403.86 2309.9) rotate(-90) scale(0.95 1.2)">10</text>
<text transform="translate(1425.11 2309.9) rotate(-90) scale(0.95 1.2)">11</text>
<text transform="translate(1446.36 2309.9) rotate(-90) scale(0.95 1.2)">12</text>
<text transform="translate(1467.61 2309.9) rotate(-90) scale(0.95 1.2)">13</text>
<text transform="translate(1488.86 2309.9) rotate(-90) scale(0.95 1.2)">14</text>
<text transform="translate(1510.11 2309.9) rotate(-90) scale(0.95 1.2)">15</text>
<text transform="translate(1531.36 2309.9) rotate(-90) scale(0.95 1.2)">16</text>
<text transform="translate(1552.61 2309.9) rotate(-90) scale(0.95 1.2)">17</text>
<text transform="translate(1573.86 2309.9) rotate(-90) scale(0.95 1.2)">18</text>
<text transform="translate(1595.11 2309.9) rotate(-90) scale(0.95 1.2)">19</text>
<text transform="translate(1616.36 2309.9) rotate(-90) scale(0.95 1.2)">20</text>
<text transform="translate(1637.61 2309.9) rotate(-90) scale(0.95 1.2)">21</text>
<text transform="translate(1658.86 2309.9) rotate(-90) scale(0.95 1.2)">22</text>
<text transform="translate(1680.11 2309.9) rotate(-90) scale(0.95 1.2)">23</text>
<text transform="translate(1701.36 2309.9) rotate(-90) scale(0.95 1.2)">24</text>
<text transform="translate(1722.61 2309.9) rotate(-90) scale(0.95 1.2)">25</text>
<text transform="translate(1743.86 2309.9) rotate(-90) scale(0.95 1.2)">26</text>
<text transform="translate(1765.11 2309.9) rotate(-90) scale(0.95 1.2)">27</text>
<text transform="translate(1786.36 2309.9) rotate(-90) scale(0.95 1.2)">28</text>
<text transform="translate(1807.61 2309.9) rotate(-90) scale(0.95 1.2)">29</text>
<text transform="translate(1828.86 2309.9) rotate(-90) scale(0.95 1.2)">30</text>
<text transform="translate(1850.11 2309.9) rotate(-90) scale(0.95 1.2)">31</text>
<text transform="translate(1871.36 2309.9) rotate(-90) scale(0.95 1.2)">32</text>
<text transform="translate(1892.61 2309.9) rotate(-90) scale(0.95 1.2)">33</text>
<text transform="translate(1913.86 2309.9) rotate(-90) scale(0.95 1.2)">34</text>
<text transform="translate(1935.11 2309.9) rotate(-90) scale(0.95 1.2)">35</text>
<text transform="translate(1956.36 2309.9) rotate(-90) scale(0.95 1.2)">36</text>
<text transform="translate(1977.61 2309.9) rotate(-90) scale(0.95 1.2)">37</text>
<text transform="translate(1998.86 2309.9) rotate(-90) scale(0.95 1.2)">38</text>
<text transform="translate(2020.11 2309.9) rotate(-90) scale(0.95 1.2)">39</text>
<text transform="translate(2041.36 2309.9) rotate(-90) scale(0.95 1.2)">40</text>
<text transform="translate(2062.61 2309.9) rotate(-90) scale(0.95 1.2)">41</text>
<text transform="translate(2083.86 2309.9) rotate(-90) scale(0.95 1.2)">42</text>
<text transform="translate(2105.11 2309.9) rotate(-90) scale(0.95 1.2)">43</text>
<text transform="translate(2126.36 2309.9) rotate(-90) scale(0.95 1.2)">44</text>
<text transform="translate(2147.61 2309.9) rotate(-90) scale(0.95 1.2)">45</text>
<text transform="translate(2168.86 2309.9) rotate(-90) scale(0.95 1.2)">46</text>
<text transform="translate(2190.11 2309.9) rotate(-90) scale(0.95 1.2)">47</text>
<text transform="translate(2211.36 2309.9) rotate(-90) scale(0.95 1.2)">48</text>
<text transform="translate(2232.61 2309.9) rotate(-90) scale(0.95 1.2)">49</text>
<text transform="translate(2253.86 2309.9) rotate(-90) scale(0.95 1.2)">50</text>
</g>
<text x="2145.6" y="2338.3" font-family="Liberation Sans" font-size="8" fill="#666" textLength="125.4" lengthAdjust="spacingAndGlyphs">MEME (no SSC) 16.02.2022 03:35</text>
<g font-family="Liberation Sans" font-weight="bold" font-size="100">
<text transform="matrix(0.5 0 0 2.68 1197.03 2420.09)" x="-6.69" y="68.8" fill="#0000CC">M</text>
<text transform="matrix(0.69 0 0 0.2 1197.03 2604.26)" x="-6.69" y="68.8" fill="#0000CC">L</text>
<text transform="matrix(0.54 0 0 3.12 1233.73 2403.8)" x="-0.68" y="68.8" fill="#0000CC">V</text>
<text transform="matrix(0.69 0 0 3.12 1270.43 2403.8)" x="-6.69" y="68.8" fill="#0000CC">F</text>
<text transform="matrix(0.52 0 0 3.03 1307.13 2403.8)" x="-4.1" y="69.82" fill="#FFB300">G</text>
<text transform="matrix(0.63 0 0 3.12 1343.83 2403.8)" x="-6.69" y="68.8" fill="#FF00FF">E</text>
<text transform="matrix(0.42 0 0 3.12 1395.15 2403.8)" x="-6.69" y="68.8" fill="#0000CC">I</text>
<text transform="matrix(0.6 0 0 3.12 1417.23 2403.8)" x="-1.12" y="68.8" fill="#008000">T</text>
<text transform="matrix(0.6 0 0 3.12 1453.93 2403.8)" x="-1.12" y="68.8" fill="#008000">T</text>
<text transform="matrix(0.55 0 0 2.68 1490.63 2420.09)" x="-6.69" y="68.8" fill="#CC0000">K</text>
<text transform="matrix(0.6 0 0 0.2 1490.63 2604.26)" x="-6.69" y="68.8" fill="#008000">N</text>
<text transform="matrix(0.53 0 0 3.12 1527.33 2403.8)" x="-2.49" y="68.8" fill="#0000CC">A</text>
<text transform="matrix(0.6 0 0 1.17 1564.03 2466.83)" x="-6.69" y="68.8" fill="#008000">N</text>
<text transform="matrix(0.55 0 0 0.9 1564.03 2547.66)" x="-6.69" y="68.8" fill="#CC0000">K</text>
<text transform="matrix(0.57 0 0 0.13 1564.03 2609.41)" x="-6.69" y="68.8" fill="#FF00FF">D</text>
<text transform="matrix(0.54 0 0 2.33 1600.73 2431.46)" x="-0.68" y="68.8" fill="#0000CC">V</text>
<text transform="matrix(0.42 0 0 0.39 1615.35 2591.61)" x="-6.69" y="68.8" fill="#0000CC">I</text>
<text transform="matrix(0.57 0 0 1.85 1637.43 2444.11)" x="-6.69" y="68.8" fill="#FF00FF">D</text>
<text transform="matrix(0.6 0 0 0.68 1637.43 2571.46)" x="-6.69" y="68.8" fill="#008000">N</text>
<text transform="matrix(0.56 0 0 3.12 1674.13 2403.8)" x="-1.71" y="68.8" fill="#33E6CC">Y</text>
<text transform="matrix(0.63 0 0 3.12 1710.83 2403.8)" x="-6.69" y="68.8" fill="#FF00FF">E</text>
<text transform="matrix(0.55 0 0 3.12 1747.53 2403.8)" x="-6.69" y="68.8" fill="#CC0000">K</text>
<text transform="matrix(0.42 0 0 3.12 1798.85 2403.8)" x="-6.69" y="68.8" fill="#0000CC">I</text>
<text transform="matrix(0.54 0 0 2.33 1820.93 2431.46)" x="-0.68" y="68.8" fill="#0000CC">V</text>
<text transform="matrix(0.42 0 0 0.39 1835.55 2591.61)" x="-6.69" y="68.8" fill="#0000CC">I</text>
<text transform="matrix(0.56 0 0 3.12 1857.63 2403.8)" x="-6.69" y="68.8" fill="#CC0000">R</text>
<text transform="matrix(0.57 0 0 3.12 1894.33 2403.8)" x="-6.69" y="68.8" fill="#FF00FF">D</text>
<text transform="matrix(0.6 0 0 3.12 1931.03 2403.8)" x="-1.12" y="68.8" fill="#008000">T</text>
<text transform="matrix(0.54 0 0 3.03 1967.73 2403.8)" x="-4.1" y="69.82" fill="#0000CC">C</text>
<text transform="matrix(0.56 0 0 3.12 2004.43 2403.8)" x="-6.69" y="68.8" fill="#CC0000">R</text>
<text transform="matrix(0.52 0 0 1.13 2041.13 2466.4)" x="-4.1" y="69.82" fill="#FFB300">G</text>
<text transform="matrix(0.59 0 0 0.88 2041.13 2546.38)" x="-2.88" y="69.82" fill="#008000">S</text>
<text transform="matrix(0.6 0 0 0.13 2041.13 2608.98)" x="-6.69" y="68.8" fill="#008000">N</text>
<text transform="matrix(0.42 0 0 3.12 2092.45 2403.8)" x="-6.69" y="68.8" fill="#0000CC">I</text>
<text transform="matrix(0.52 0 0 3.03 2114.53 2403.8)" x="-4.1" y="69.82" fill="#FFB300">G</text>
<text transform="matrix(0.69 0 0 3.12 2151.23 2403.8)" x="-6.69" y="68.8" fill="#0000CC">F</text>
<text transform="matrix(0.54 0 0 1.05 2187.93 2467.69)" x="-0.68" y="68.8" fill="#0000CC">V</text>
<text transform="matrix(0.6 0 0 1.01 2187.93 2539.73)" x="-1.12" y="68.8" fill="#008000">T</text>
<text transform="matrix(0.42 0 0 0.13 2202.55 2608.98)" x="-6.69" y="68.8" fill="#0000CC">I</text>
<text transform="matrix(0.59 0 0 2.61 2224.63 2421.17)" x="-2.88" y="69.82" fill="#008000">S</text>
<text transform="matrix(0.69 0 0 0.17 2224.63 2606.19)" x="-6.69" y="68.8" fill="#0000CC">L</text>
</g>
<g stroke="#7a7a7a" stroke-width="2.4" fill="none">
<path d="M1195.9 2401.8 V2619.2"/>
<path d="M1186.9 2618.2 H1195.9"/>
<path d="M1186.9 2568.4 H1195.9"/>
<path d="M1186.9 2518.6 H1195.9"/>
<path d="M1186.9 2468.8 H1195.9"/>
<path d="M1186.9 2419 H1195.9"/>
</g>
<g font-family="Liberation Sans" font-weight="bold" font-size="15" fill="#3a3a3a" text-anchor="end">
<text transform="translate(1185.9 2622.25) scale(1.0 1)">0</text>
<text transform="translate(1185.9 2572.45) scale(1.0 1)">1</text>
<text transform="translate(1185.9 2522.65) scale(1.0 1)">2</text>
<text transform="translate(1185.9 2472.85) scale(1.0 1)">3</text>
<text transform="translate(1185.9 2423.05) scale(1.0 1)">4</text>
</g>
<text transform="translate(1173.9 2512.1) rotate(-90) scale(1 1.0)" font-family="Liberation Sans" font-weight="bold" font-size="15" fill="#3a3a3a" text-anchor="middle">bits</text>
<g font-family="Liberation Sans" font-weight="bold" font-size="12" fill="#3a3a3a" text-anchor="end">
<text transform="translate(1219.83 2621.2) rotate(-90) scale(0.95 1.2)">1</text>
<text transform="translate(1256.53 2621.2) rotate(-90) scale(0.95 1.2)">2</text>
<text transform="translate(1293.23 2621.2) rotate(-90) scale(0.95 1.2)">3</text>
<text transform="translate(1329.93 2621.2) rotate(-90) scale(0.95 1.2)">4</text>
<text transform="translate(1366.63 2621.2) rotate(-90) scale(0.95 1.2)">5</text>
<text transform="translate(1403.33 2621.2) rotate(-90) scale(0.95 1.2)">6</text>
<text transform="translate(1440.03 2621.2) rotate(-90) scale(0.95 1.2)">7</text>
<text transform="translate(1476.73 2621.2) rotate(-90) scale(0.95 1.2)">8</text>
<text transform="translate(1513.43 2621.2) rotate(-90) scale(0.95 1.2)">9</text>
<text transform="translate(1550.13 2621.2) rotate(-90) scale(0.95 1.2)">10</text>
<text transform="translate(1586.83 2621.2) rotate(-90) scale(0.95 1.2)">11</text>
<text transform="translate(1623.53 2621.2) rotate(-90) scale(0.95 1.2)">12</text>
<text transform="translate(1660.23 2621.2) rotate(-90) scale(0.95 1.2)">13</text>
<text transform="translate(1696.93 2621.2) rotate(-90) scale(0.95 1.2)">14</text>
<text transform="translate(1733.63 2621.2) rotate(-90) scale(0.95 1.2)">15</text>
<text transform="translate(1770.33 2621.2) rotate(-90) scale(0.95 1.2)">16</text>
<text transform="translate(1807.03 2621.2) rotate(-90) scale(0.95 1.2)">17</text>
<text transform="translate(1843.73 2621.2) rotate(-90) scale(0.95 1.2)">18</text>
<text transform="translate(1880.43 2621.2) rotate(-90) scale(0.95 1.2)">19</text>
<text transform="translate(1917.13 2621.2) rotate(-90) scale(0.95 1.2)">20</text>
<text transform="translate(1953.83 2621.2) rotate(-90) scale(0.95 1.2)">21</text>
<text transform="translate(1990.53 2621.2) rotate(-90) scale(0.95 1.2)">22</text>
<text transform="translate(2027.23 2621.2) rotate(-90) scale(0.95 1.2)">23</text>
<text transform="translate(2063.93 2621.2) rotate(-90) scale(0.95 1.2)">24</text>
<text transform="translate(2100.63 2621.2) rotate(-90) scale(0.95 1.2)">25</text>
<text transform="translate(2137.33 2621.2) rotate(-90) scale(0.95 1.2)">26</text>
<text transform="translate(2174.03 2621.2) rotate(-90) scale(0.95 1.2)">27</text>
<text transform="translate(2210.73 2621.2) rotate(-90) scale(0.95 1.2)">28</text>
<text transform="translate(2247.43 2621.2) rotate(-90) scale(0.95 1.2)">29</text>
</g>
<text x="2145.6" y="2649.6" font-family="Liberation Sans" font-size="8" fill="#666" textLength="125.4" lengthAdjust="spacingAndGlyphs">MEME (no SSC) 16.02.2022 03:35</text>
<g font-family="Liberation Sans" font-weight="bold" font-size="100">
<text transform="matrix(0.52 0 0 3.13 1197.53 2740.5)" x="-2.49" y="68.8" fill="#0000CC">A</text>
<text transform="matrix(0.42 0 0 3.13 1248.82 2740.5)" x="-6.69" y="68.8" fill="#0000CC">I</text>
<text transform="matrix(0.52 0 0 3.04 1270.89 2740.5)" x="-4.1" y="69.82" fill="#FFB300">G</text>
<text transform="matrix(0.54 0 0 3.13 1307.57 2740.5)" x="-0.68" y="68.8" fill="#0000CC">V</text>
<text transform="matrix(0.62 0 0 2.73 1344.25 2756.42)" x="-6.69" y="68.8" fill="#FFFF00">P</text>
<text transform="matrix(0.59 0 0 0.16 1344.25 2944.51)" x="-2.88" y="69.82" fill="#008000">S</text>
<text transform="matrix(0.63 0 0 3.13 1380.93 2740.5)" x="-6.69" y="68.8" fill="#FF00FF">E</text>
<text transform="matrix(0.62 0 0 3.13 1417.61 2740.5)" x="-6.69" y="68.8" fill="#FFFF00">P</text>
<text transform="matrix(0.69 0 0 3.13 1454.29 2740.5)" x="-6.69" y="68.8" fill="#0000CC">L</text>
<text transform="matrix(0.59 0 0 3.04 1490.97 2740.5)" x="-2.88" y="69.82" fill="#008000">S</text>
<text transform="matrix(0.54 0 0 3.13 1527.65 2740.5)" x="-0.68" y="68.8" fill="#0000CC">V</text>
<text transform="matrix(0.69 0 0 3.13 1564.33 2740.5)" x="-6.69" y="68.8" fill="#0000CC">F</text>
<text transform="matrix(0.54 0 0 3.13 1601.01 2740.5)" x="-0.68" y="68.8" fill="#0000CC">V</text>
<text transform="matrix(0.57 0 0 2.71 1637.69 2758.15)" x="-6.69" y="68.8" fill="#FF00FF">D</text>
<text transform="matrix(0.6 0 0 0.17 1637.69 2944.29)" x="-6.69" y="68.8" fill="#008000">N</text>
<text transform="matrix(0.6 0 0 1.21 1674.37 2790.86)" x="-1.12" y="68.8" fill="#008000">T</text>
<text transform="matrix(0.59 0 0 1.16 1674.37 2873.92)" x="-2.88" y="69.82" fill="#008000">S</text>
<text transform="matrix(0.56 0 0 3.13 1711.05 2740.5)" x="-1.71" y="68.8" fill="#33E6CC">Y</text>
<text transform="matrix(0.52 0 0 1.46 1747.73 2789.57)" x="-4.1" y="69.82" fill="#FFB300">G</text>
<text transform="matrix(0.55 0 0 0.91 1747.73 2892.86)" x="-6.69" y="68.8" fill="#CC0000">K</text>
<text transform="matrix(0.6 0 0 3.13 1784.41 2740.5)" x="-1.12" y="68.8" fill="#008000">T</text>
<text transform="matrix(0.52 0 0 3.04 1821.09 2740.5)" x="-4.1" y="69.82" fill="#FFB300">G</text>
<text transform="matrix(0.55 0 0 3.13 1857.77 2740.5)" x="-6.69" y="68.8" fill="#CC0000">K</text>
<text transform="matrix(0.42 0 0 3.13 1909.06 2740.5)" x="-6.69" y="68.8" fill="#0000CC">I</text>
<text transform="matrix(0.62 0 0 2.37 1931.13 2768.48)" x="-6.69" y="68.8" fill="#FFFF00">P</text>
<text transform="matrix(0.59 0 0 0.34 1931.13 2931.6)" x="-2.88" y="69.82" fill="#008000">S</text>
<text transform="matrix(0.57 0 0 3.13 1967.81 2740.5)" x="-6.69" y="68.8" fill="#FF00FF">D</text>
<text transform="matrix(0.55 0 0 2.7 2004.49 2757.93)" x="-6.69" y="68.8" fill="#CC0000">K</text>
<text transform="matrix(0.6 0 0 0.18 2004.49 2943.65)" x="-6.69" y="68.8" fill="#008000">N</text>
<text transform="matrix(0.63 0 0 1.71 2041.17 2785.91)" x="-6.69" y="68.8" fill="#FF00FF">E</text>
<text transform="matrix(0.57 0 0 0.76 2041.17 2903.62)" x="-6.69" y="68.8" fill="#FF00FF">D</text>
<text transform="matrix(0.42 0 0 3.13 2092.46 2740.5)" x="-6.69" y="68.8" fill="#0000CC">I</text>
<text transform="matrix(0.69 0 0 3.13 2114.53 2740.5)" x="-6.69" y="68.8" fill="#0000CC">L</text>
<clipPath id="cq15"><rect x="2150.21" y="2818.26" width="37.21" height="85.36"/></clipPath>
<g clip-path="url(#cq15)"><text transform="matrix(0.51 0 0 1.14 2151.21 2819.26)" x="-4.1" y="69.82" fill="#008000">Q</text></g>
<text transform="matrix(0.55 0 0 0.27 2151.21 2903.62)" x="-6.69" y="68.8" fill="#CC0000">K</text>
<text transform="matrix(0.63 0 0 0.23 2151.21 2922.34)" x="-6.69" y="68.8" fill="#FF00FF">E</text>
<text transform="matrix(0.52 0 0 0.25 2151.21 2938.27)" x="-2.49" y="68.8" fill="#0000CC">A</text>
<text transform="matrix(0.42 0 0 1.5 2202.5 2788.7)" x="-6.69" y="68.8" fill="#0000CC">I</text>
<text transform="matrix(0.69 0 0 0.93 2187.89 2891.57)" x="-6.69" y="68.8" fill="#0000CC">L</text>
<text transform="matrix(0.54 0 0 1.51 2224.57 2788.7)" x="-0.68" y="68.8" fill="#0000CC">V</text>
<text transform="matrix(0.42 0 0 0.91 2239.18 2892.86)" x="-6.69" y="68.8" fill="#0000CC">I</text>
</g>
<g stroke="#7a7a7a" stroke-width="2.4" fill="none">
<path d="M1195.6 2738.5 V2956.7"/>
<path d="M1186.6 2955.7 H1195.6"/>
<path d="M1186.6 2905.7 H1195.6"/>
<path d="M1186.6 2855.7 H1195.6"/>
<path d="M1186.6 2805.7 H1195.6"/>
<path d="M1186.6 2755.7 H1195.6"/>
</g>
<g font-family="Liberation Sans" font-weight="bold" font-size="15" fill="#3a3a3a" text-anchor="end">
<text transform="translate(1185.6 2959.75) scale(1.0 1)">0</text>
<text transform="translate(1185.6 2909.75) scale(1.0 1)">1</text>
<text transform="translate(1185.6 2859.75) scale(1.0 1)">2</text>
<text transform="translate(1185.6 2809.75) scale(1.0 1)">3</text>
<text transform="translate(1185.6 2759.75) scale(1.0 1)">4</text>
</g>
<text transform="translate(1173.6 2849.2) rotate(-90) scale(1 1.0)" font-family="Liberation Sans" font-weight="bold" font-size="15" fill="#3a3a3a" text-anchor="middle">bits</text>
<g font-family="Liberation Sans" font-weight="bold" font-size="12" fill="#3a3a3a" text-anchor="end">
<text transform="translate(1220.32 2958.7) rotate(-90) scale(0.95 1.2)">1</text>
<text transform="translate(1257 2958.7) rotate(-90) scale(0.95 1.2)">2</text>
<text transform="translate(1293.68 2958.7) rotate(-90) scale(0.95 1.2)">3</text>
<text transform="translate(1330.36 2958.7) rotate(-90) scale(0.95 1.2)">4</text>
<text transform="translate(1367.04 2958.7) rotate(-90) scale(0.95 1.2)">5</text>
<text transform="translate(1403.72 2958.7) rotate(-90) scale(0.95 1.2)">6</text>
<text transform="translate(1440.4 2958.7) rotate(-90) scale(0.95 1.2)">7</text>
<text transform="translate(1477.08 2958.7) rotate(-90) scale(0.95 1.2)">8</text>
<text transform="translate(1513.76 2958.7) rotate(-90) scale(0.95 1.2)">9</text>
<text transform="translate(1550.44 2958.7) rotate(-90) scale(0.95 1.2)">10</text>
<text transform="translate(1587.12 2958.7) rotate(-90) scale(0.95 1.2)">11</text>
<text transform="translate(1623.8 2958.7) rotate(-90) scale(0.95 1.2)">12</text>
<text transform="translate(1660.48 2958.7) rotate(-90) scale(0.95 1.2)">13</text>
<text transform="translate(1697.16 2958.7) rotate(-90) scale(0.95 1.2)">14</text>
<text transform="translate(1733.84 2958.7) rotate(-90) scale(0.95 1.2)">15</text>
<text transform="translate(1770.52 2958.7) rotate(-90) scale(0.95 1.2)">16</text>
<text transform="translate(1807.2 2958.7) rotate(-90) scale(0.95 1.2)">17</text>
<text transform="translate(1843.88 2958.7) rotate(-90) scale(0.95 1.2)">18</text>
<text transform="translate(1880.56 2958.7) rotate(-90) scale(0.95 1.2)">19</text>
<text transform="translate(1917.24 2958.7) rotate(-90) scale(0.95 1.2)">20</text>
<text transform="translate(1953.92 2958.7) rotate(-90) scale(0.95 1.2)">21</text>
<text transform="translate(1990.6 2958.7) rotate(-90) scale(0.95 1.2)">22</text>
<text transform="translate(2027.28 2958.7) rotate(-90) scale(0.95 1.2)">23</text>
<text transform="translate(2063.96 2958.7) rotate(-90) scale(0.95 1.2)">24</text>
<text transform="translate(2100.64 2958.7) rotate(-90) scale(0.95 1.2)">25</text>
<text transform="translate(2137.32 2958.7) rotate(-90) scale(0.95 1.2)">26</text>
<text transform="translate(2174 2958.7) rotate(-90) scale(0.95 1.2)">27</text>
<text transform="translate(2210.68 2958.7) rotate(-90) scale(0.95 1.2)">28</text>
<text transform="translate(2247.36 2958.7) rotate(-90) scale(0.95 1.2)">29</text>
</g>
<text x="2145.6" y="2987.1" font-family="Liberation Sans" font-size="8" fill="#666" textLength="125.4" lengthAdjust="spacingAndGlyphs">MEME (no SSC) 16.02.2022 03:35</text>
<g font-family="Liberation Sans" font-weight="bold" font-size="100">
<text transform="matrix(0.7 0 0 3.12 1187.32 3062)" x="-6.69" y="68.8" fill="#FFFF00">P</text>
<text transform="matrix(0.77 0 0 3.12 1228.52 3062)" x="-6.69" y="68.8" fill="#0000CC">L</text>
<text transform="matrix(0.67 0 0 1.01 1269.72 3111.79)" x="-1.12" y="68.8" fill="#008000">T</text>
<text transform="matrix(0.66 0 0 1.35 1269.72 3181.32)" x="-2.88" y="69.82" fill="#008000">S</text>
<text transform="matrix(0.67 0 0 3.12 1310.92 3062)" x="-6.69" y="68.8" fill="#FFCCCC">H</text>
<text transform="matrix(0.61 0 0 3.12 1352.12 3062)" x="-0.68" y="68.8" fill="#0000CC">V</text>
<text transform="matrix(0.77 0 0 3.12 1393.32 3062)" x="-6.69" y="68.8" fill="#0000CC">L</text>
<text transform="matrix(0.59 0 0 3.12 1434.52 3062)" x="-2.49" y="68.8" fill="#0000CC">A</text>
<text transform="matrix(0.67 0 0 3.12 1475.72 3062)" x="-1.12" y="68.8" fill="#008000">T</text>
<text transform="matrix(0.61 0 0 2.33 1516.92 3088.4)" x="-6.69" y="68.8" fill="#CC0000">K</text>
<text transform="matrix(0.62 0 0 0.41 1516.92 3248.7)" x="-6.69" y="68.8" fill="#CC0000">R</text>
<text transform="matrix(0.77 0 0 3.12 1558.12 3062)" x="-6.69" y="68.8" fill="#0000CC">L</text>
<text transform="matrix(0.59 0 0 3.03 1599.32 3062)" x="-4.1" y="69.82" fill="#FFB300">G</text>
<text transform="matrix(0.59 0 0 3.12 1640.52 3062)" x="-2.49" y="68.8" fill="#0000CC">A</text>
<text transform="matrix(0.62 0 0 2.33 1681.72 3088.4)" x="-6.69" y="68.8" fill="#CC0000">R</text>
<text transform="matrix(0.61 0 0 0.41 1681.72 3248.7)" x="-6.69" y="68.8" fill="#CC0000">K</text>
<text transform="matrix(0.77 0 0 3.12 1722.92 3062)" x="-6.69" y="68.8" fill="#0000CC">L</text>
<text transform="matrix(0.67 0 0 3.12 1764.12 3062)" x="-1.12" y="68.8" fill="#008000">T</text>
</g>
<g stroke="#7a7a7a" stroke-width="2.4" fill="none">
<path d="M1185.5 3060 V3277.6"/>
<path d="M1176.5 3276.6 H1185.5"/>
<path d="M1176.5 3226.4 H1185.5"/>
<path d="M1176.5 3176.2 H1185.5"/>
<path d="M1176.5 3126 H1185.5"/>
<path d="M1176.5 3075.8 H1185.5"/>
</g>
<g font-family="Liberation Sans" font-weight="bold" font-size="15" fill="#3a3a3a" text-anchor="end">
<text transform="translate(1175.5 3280.65) scale(1.0 1)">0</text>
<text transform="translate(1175.5 3230.45) scale(1.0 1)">1</text>
<text transform="translate(1175.5 3180.25) scale(1.0 1)">2</text>
<text transform="translate(1175.5 3130.05) scale(1.0 1)">3</text>
<text transform="translate(1175.5 3079.85) scale(1.0 1)">4</text>
</g>
<text transform="translate(1163.5 3169.7) rotate(-90) scale(1 1.0)" font-family="Liberation Sans" font-weight="bold" font-size="15" fill="#3a3a3a" text-anchor="middle">bits</text>
<g font-family="Liberation Sans" font-weight="bold" font-size="12" fill="#3a3a3a" text-anchor="end">
<text transform="translate(1212.28 3279.6) rotate(-90) scale(0.95 1.2)">1</text>
<text transform="translate(1253.48 3279.6) rotate(-90) scale(0.95 1.2)">2</text>
<text transform="translate(1294.68 3279.6) rotate(-90) scale(0.95 1.2)">3</text>
<text transform="translate(1335.88 3279.6) rotate(-90) scale(0.95 1.2)">4</text>
<text transform="translate(1377.08 3279.6) rotate(-90) scale(0.95 1.2)">5</text>
<text transform="translate(1418.28 3279.6) rotate(-90) scale(0.95 1.2)">6</text>
<text transform="translate(1459.48 3279.6) rotate(-90) scale(0.95 1.2)">7</text>
<text transform="translate(1500.68 3279.6) rotate(-90) scale(0.95 1.2)">8</text>
<text transform="translate(1541.88 3279.6) rotate(-90) scale(0.95 1.2)">9</text>
<text transform="translate(1583.08 3279.6) rotate(-90) scale(0.95 1.2)">10</text>
<text transform="translate(1624.28 3279.6) rotate(-90) scale(0.95 1.2)">11</text>
<text transform="translate(1665.48 3279.6) rotate(-90) scale(0.95 1.2)">12</text>
<text transform="translate(1706.68 3279.6) rotate(-90) scale(0.95 1.2)">13</text>
<text transform="translate(1747.88 3279.6) rotate(-90) scale(0.95 1.2)">14</text>
<text transform="translate(1789.08 3279.6) rotate(-90) scale(0.95 1.2)">15</text>
</g>
<text x="1679.5" y="3307.5" font-family="Liberation Sans" font-size="8.5" fill="#666" textLength="134.5" lengthAdjust="spacingAndGlyphs">MEME (no SSC) 16.02.2022 03:31</text>
<g font-family="Liberation Sans" font-weight="bold" font-size="100">
<text transform="matrix(1.09 0 0 1.43 1223.89 3422.6)" x="-6.69" y="68.8" fill="#FF00FF">D</text>
<text transform="matrix(0.99 0 0 0.98 1223.89 3520.81)" x="-2.49" y="68.8" fill="#0000CC">A</text>
<text transform="matrix(1.09 0 0 3.12 1293.29 3373.6)" x="-6.69" y="68.8" fill="#FF00FF">D</text>
<text transform="matrix(1.02 0 0 3.12 1362.69 3373.6)" x="-0.68" y="68.8" fill="#0000CC">V</text>
<text transform="matrix(0.99 0 0 3.04 1432.09 3373.6)" x="-4.1" y="69.82" fill="#FFB300">G</text>
<text transform="matrix(1.3 0 0 3.12 1501.49 3373.6)" x="-6.69" y="68.8" fill="#0000CC">L</text>
<text transform="matrix(1.09 0 0 3.12 1570.89 3373.6)" x="-6.69" y="68.8" fill="#FF00FF">D</text>
<text transform="matrix(0.99 0 0 3.12 1640.29 3373.6)" x="-2.49" y="68.8" fill="#0000CC">A</text>
<text transform="matrix(1.09 0 0 3.12 1709.69 3373.6)" x="-6.69" y="68.8" fill="#FF00FF">D</text>
</g>
<g stroke="#7a7a7a" stroke-width="2.4" fill="none">
<path d="M1221.4 3371.6 V3589.5"/>
<path d="M1208.4 3588.5 H1221.4"/>
<path d="M1208.4 3538.55 H1221.4"/>
<path d="M1208.4 3488.6 H1221.4"/>
<path d="M1208.4 3438.65 H1221.4"/>
<path d="M1208.4 3388.7 H1221.4"/>
</g>
<g font-family="Liberation Sans" font-weight="bold" font-size="15" fill="#3a3a3a" text-anchor="end">
<text transform="translate(1206.4 3592.55) scale(1.4 1)">0</text>
<text transform="translate(1206.4 3542.6) scale(1.4 1)">1</text>
<text transform="translate(1206.4 3492.65) scale(1.4 1)">2</text>
<text transform="translate(1206.4 3442.7) scale(1.4 1)">3</text>
<text transform="translate(1206.4 3392.75) scale(1.4 1)">4</text>
</g>
<text transform="translate(1182 3482.1) rotate(-90) scale(1 1.6)" font-family="Liberation Sans" font-weight="bold" font-size="17" fill="#3a3a3a" text-anchor="middle">bits</text>
<g font-family="Liberation Sans" font-weight="bold" font-size="14" fill="#3a3a3a" text-anchor="end">
<text transform="translate(1266.78 3591.5) rotate(-90) scale(0.95 1.9)">1</text>
<text transform="translate(1336.18 3591.5) rotate(-90) scale(0.95 1.9)">2</text>
<text transform="translate(1405.58 3591.5) rotate(-90) scale(0.95 1.9)">3</text>
<text transform="translate(1474.98 3591.5) rotate(-90) scale(0.95 1.9)">4</text>
<text transform="translate(1544.38 3591.5) rotate(-90) scale(0.95 1.9)">5</text>
<text transform="translate(1613.78 3591.5) rotate(-90) scale(0.95 1.9)">6</text>
<text transform="translate(1683.18 3591.5) rotate(-90) scale(0.95 1.9)">7</text>
<text transform="translate(1752.58 3591.5) rotate(-90) scale(0.95 1.9)">8</text>
</g>
<text x="1570" y="3620.1" font-family="Liberation Sans" font-size="7.5" fill="#666" textLength="223" lengthAdjust="spacingAndGlyphs">MEME (no SSC) 16.02.2022 03:34</text>
<text x="1079" y="3715.5" font-family="Liberation Serif" font-size="87" fill="#000" textLength="108" lengthAdjust="spacingAndGlyphs">(<tspan font-weight="bold">B</tspan>)</text>
</svg></body></html>
